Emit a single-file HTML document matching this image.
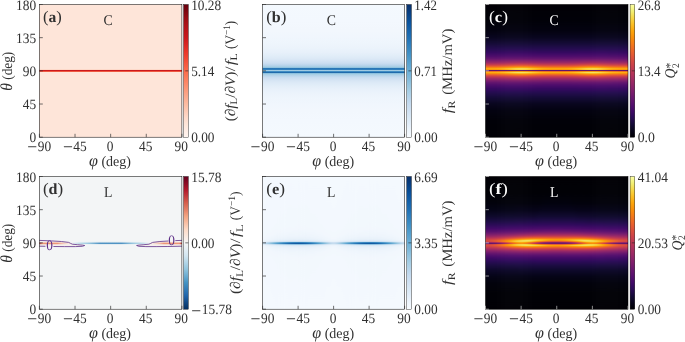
<!DOCTYPE html>
<html lang="en">
<head>
<meta charset="utf-8">
<title>Figure</title>
<style>html,body{margin:0;padding:0;background:#fff;overflow:hidden}svg{display:block}</style>
</head>
<body>
<svg width="685" height="342" viewBox="0 0 685 342" font-family='"Liberation Serif", "DejaVu Serif", serif' fill="#2e2e2e" text-rendering="geometricPrecision">
<defs>
<linearGradient id="ga" gradientUnits="userSpaceOnUse" x1="0" y1="70.8" x2="0" y2="137.2" spreadMethod="reflect"><stop offset="0.0000" stop-color="#c8171c"/><stop offset="0.0060" stop-color="#cc191e"/><stop offset="0.0120" stop-color="#fb6d4d"/><stop offset="0.0166" stop-color="#fcc2aa"/><stop offset="0.0211" stop-color="#fee5d9"/><stop offset="0.0256" stop-color="#fee5d9"/><stop offset="0.0316" stop-color="#fee5d9"/><stop offset="0.0392" stop-color="#fee5d9"/><stop offset="0.0482" stop-color="#fee5d9"/><stop offset="0.0557" stop-color="#fee5d9"/><stop offset="0.0723" stop-color="#fee5d9"/><stop offset="0.0889" stop-color="#fee5d9"/><stop offset="0.1054" stop-color="#fee5d9"/><stop offset="0.1205" stop-color="#fee5d9"/><stop offset="0.1506" stop-color="#fee5d9"/><stop offset="0.1807" stop-color="#fee5d9"/><stop offset="0.2199" stop-color="#fee5d9"/><stop offset="0.2711" stop-color="#fee5d9"/><stop offset="0.3313" stop-color="#fee5d9"/><stop offset="0.4066" stop-color="#fee5d9"/><stop offset="0.4970" stop-color="#fee5d9"/><stop offset="0.6024" stop-color="#fee5d9"/><stop offset="0.7530" stop-color="#fee5d9"/><stop offset="0.9992" stop-color="#fee5d9"/></linearGradient>
<linearGradient id="ca" x1="0" x2="0" y1="0" y2="1"><stop offset="0" stop-color="#67000d"/><stop offset="0.05" stop-color="#7e0610"/><stop offset="0.1" stop-color="#980c13"/><stop offset="0.15" stop-color="#ac1117"/><stop offset="0.2" stop-color="#bc141a"/><stop offset="0.25" stop-color="#ca181d"/><stop offset="0.3" stop-color="#d92523"/><stop offset="0.35" stop-color="#e83429"/><stop offset="0.4" stop-color="#f14432"/><stop offset="0.45" stop-color="#f6583e"/><stop offset="0.5" stop-color="#fb694a"/><stop offset="0.55" stop-color="#fb7a5a"/><stop offset="0.6" stop-color="#fc8a6a"/><stop offset="0.65" stop-color="#fc9b7c"/><stop offset="0.7" stop-color="#fcab8f"/><stop offset="0.75" stop-color="#fcbba1"/><stop offset="0.8" stop-color="#fdcab5"/><stop offset="0.85" stop-color="#fed9c9"/><stop offset="0.9" stop-color="#fee5d8"/><stop offset="0.95" stop-color="#ffede5"/><stop offset="1" stop-color="#fff5f0"/></linearGradient>
<linearGradient id="gb" gradientUnits="userSpaceOnUse" x1="0" y1="70.55" x2="0" y2="137.2" spreadMethod="reflect"><stop offset="0.0000" stop-color="#a3cce3"/><stop offset="0.0060" stop-color="#91c3de"/><stop offset="0.0120" stop-color="#56a0ce"/><stop offset="0.0165" stop-color="#2a7ab9"/><stop offset="0.0210" stop-color="#084f99"/><stop offset="0.0255" stop-color="#084a91"/><stop offset="0.0315" stop-color="#2e7ebc"/><stop offset="0.0390" stop-color="#77b5d9"/><stop offset="0.0480" stop-color="#9cc9e1"/><stop offset="0.0555" stop-color="#a6cee4"/><stop offset="0.0720" stop-color="#b4d3e9"/><stop offset="0.0885" stop-color="#bfd8ed"/><stop offset="0.1050" stop-color="#c9ddf0"/><stop offset="0.1200" stop-color="#cee0f2"/><stop offset="0.1500" stop-color="#d6e5f4"/><stop offset="0.1800" stop-color="#dce9f6"/><stop offset="0.2191" stop-color="#e1edf8"/><stop offset="0.2701" stop-color="#e7f0fa"/><stop offset="0.3301" stop-color="#ebf3fb"/><stop offset="0.4051" stop-color="#eef5fc"/><stop offset="0.4951" stop-color="#f0f6fd"/><stop offset="0.6002" stop-color="#f2f7fd"/><stop offset="0.7502" stop-color="#f3f8fe"/><stop offset="0.9955" stop-color="#f4f9fe"/></linearGradient>
<linearGradient id="cb" x1="0" x2="0" y1="0" y2="1"><stop offset="0" stop-color="#08306b"/><stop offset="0.05" stop-color="#083c7d"/><stop offset="0.1" stop-color="#084a91"/><stop offset="0.15" stop-color="#0d57a1"/><stop offset="0.2" stop-color="#1764ab"/><stop offset="0.25" stop-color="#2070b4"/><stop offset="0.3" stop-color="#2e7ebc"/><stop offset="0.35" stop-color="#3b8bc2"/><stop offset="0.4" stop-color="#4a98c9"/><stop offset="0.45" stop-color="#5ba3d0"/><stop offset="0.5" stop-color="#6aaed6"/><stop offset="0.55" stop-color="#7fb9da"/><stop offset="0.6" stop-color="#94c4df"/><stop offset="0.65" stop-color="#a6cee4"/><stop offset="0.7" stop-color="#b7d4ea"/><stop offset="0.75" stop-color="#c6dbef"/><stop offset="0.8" stop-color="#d0e1f2"/><stop offset="0.85" stop-color="#d9e8f5"/><stop offset="0.9" stop-color="#e3eef9"/><stop offset="0.95" stop-color="#eef5fc"/><stop offset="1" stop-color="#f7fbff"/></linearGradient>
<clipPath id="kc"><rect x="485.5" y="4.5" width="142.5" height="132.7"/></clipPath>
<filter id="bc" x="-10%" y="-5%" width="120%" height="110%" color-interpolation-filters="sRGB"><feGaussianBlur stdDeviation="1.6 0"/></filter>
<linearGradient id="gc0" gradientUnits="userSpaceOnUse" x1="0" y1="70.65" x2="0" y2="137.2" spreadMethod="reflect"><stop offset="0.0000" stop-color="#4a0c6b"/><stop offset="0.0060" stop-color="#84206b"/><stop offset="0.0120" stop-color="#eb6628"/><stop offset="0.0165" stop-color="#fa9407"/><stop offset="0.0210" stop-color="#fcae12"/><stop offset="0.0255" stop-color="#fcb014"/><stop offset="0.0316" stop-color="#fca60c"/><stop offset="0.0391" stop-color="#fb9706"/><stop offset="0.0481" stop-color="#f68013"/><stop offset="0.0556" stop-color="#f06f20"/><stop offset="0.0721" stop-color="#dd513a"/><stop offset="0.0887" stop-color="#c63d4d"/><stop offset="0.1052" stop-color="#b0315b"/><stop offset="0.1202" stop-color="#9b2964"/><stop offset="0.1503" stop-color="#7d1e6d"/><stop offset="0.1803" stop-color="#62146e"/><stop offset="0.2194" stop-color="#4c0c6b"/><stop offset="0.2705" stop-color="#360961"/><stop offset="0.3306" stop-color="#240c4f"/><stop offset="0.4057" stop-color="#150b37"/><stop offset="0.4959" stop-color="#09061f"/><stop offset="0.6011" stop-color="#030210"/><stop offset="0.7513" stop-color="#010108"/><stop offset="0.9970" stop-color="#010005"/></linearGradient>
<linearGradient id="gc1" gradientUnits="userSpaceOnUse" x1="0" y1="70.65" x2="0" y2="137.2" spreadMethod="reflect"><stop offset="0.0000" stop-color="#4a0c6b"/><stop offset="0.0060" stop-color="#84206b"/><stop offset="0.0120" stop-color="#eb6628"/><stop offset="0.0165" stop-color="#fa9407"/><stop offset="0.0210" stop-color="#fcae12"/><stop offset="0.0255" stop-color="#fcb014"/><stop offset="0.0316" stop-color="#fca60c"/><stop offset="0.0391" stop-color="#fb9706"/><stop offset="0.0481" stop-color="#f68013"/><stop offset="0.0556" stop-color="#f06f20"/><stop offset="0.0721" stop-color="#dd513a"/><stop offset="0.0887" stop-color="#c63d4d"/><stop offset="0.1052" stop-color="#b0315b"/><stop offset="0.1202" stop-color="#9b2964"/><stop offset="0.1503" stop-color="#7d1e6d"/><stop offset="0.1803" stop-color="#62146e"/><stop offset="0.2194" stop-color="#4c0c6b"/><stop offset="0.2705" stop-color="#360961"/><stop offset="0.3306" stop-color="#240c4f"/><stop offset="0.4057" stop-color="#150b37"/><stop offset="0.4959" stop-color="#09061f"/><stop offset="0.6011" stop-color="#030210"/><stop offset="0.7513" stop-color="#010108"/><stop offset="0.9970" stop-color="#010005"/></linearGradient>
<linearGradient id="gc2" gradientUnits="userSpaceOnUse" x1="0" y1="70.65" x2="0" y2="137.2" spreadMethod="reflect"><stop offset="0.0000" stop-color="#4a0c6b"/><stop offset="0.0060" stop-color="#84206b"/><stop offset="0.0120" stop-color="#ec6726"/><stop offset="0.0165" stop-color="#fb9606"/><stop offset="0.0210" stop-color="#fcb014"/><stop offset="0.0255" stop-color="#fcb014"/><stop offset="0.0316" stop-color="#fca60c"/><stop offset="0.0391" stop-color="#fb9706"/><stop offset="0.0481" stop-color="#f68013"/><stop offset="0.0556" stop-color="#f06f20"/><stop offset="0.0721" stop-color="#dd513a"/><stop offset="0.0887" stop-color="#c63d4d"/><stop offset="0.1052" stop-color="#b0315b"/><stop offset="0.1202" stop-color="#9b2964"/><stop offset="0.1503" stop-color="#7d1e6d"/><stop offset="0.1803" stop-color="#62146e"/><stop offset="0.2194" stop-color="#4c0c6b"/><stop offset="0.2705" stop-color="#360961"/><stop offset="0.3306" stop-color="#240c4f"/><stop offset="0.4057" stop-color="#150b37"/><stop offset="0.4959" stop-color="#09061f"/><stop offset="0.6011" stop-color="#030210"/><stop offset="0.7513" stop-color="#010108"/><stop offset="0.9970" stop-color="#010005"/></linearGradient>
<linearGradient id="gc3" gradientUnits="userSpaceOnUse" x1="0" y1="70.65" x2="0" y2="137.2" spreadMethod="reflect"><stop offset="0.0000" stop-color="#4a0c6b"/><stop offset="0.0060" stop-color="#84206b"/><stop offset="0.0120" stop-color="#ec6726"/><stop offset="0.0165" stop-color="#fb9706"/><stop offset="0.0210" stop-color="#fcb216"/><stop offset="0.0255" stop-color="#fcb216"/><stop offset="0.0316" stop-color="#fca80d"/><stop offset="0.0391" stop-color="#fb9906"/><stop offset="0.0481" stop-color="#f78212"/><stop offset="0.0556" stop-color="#f06f20"/><stop offset="0.0721" stop-color="#de5238"/><stop offset="0.0887" stop-color="#c73e4c"/><stop offset="0.1052" stop-color="#b0315b"/><stop offset="0.1202" stop-color="#9b2964"/><stop offset="0.1503" stop-color="#7d1e6d"/><stop offset="0.1803" stop-color="#62146e"/><stop offset="0.2194" stop-color="#4c0c6b"/><stop offset="0.2705" stop-color="#360961"/><stop offset="0.3306" stop-color="#240c4f"/><stop offset="0.4057" stop-color="#150b37"/><stop offset="0.4959" stop-color="#09061f"/><stop offset="0.6011" stop-color="#030210"/><stop offset="0.7513" stop-color="#010108"/><stop offset="0.9970" stop-color="#010005"/></linearGradient>
<linearGradient id="gc4" gradientUnits="userSpaceOnUse" x1="0" y1="70.65" x2="0" y2="137.2" spreadMethod="reflect"><stop offset="0.0000" stop-color="#4a0c6b"/><stop offset="0.0060" stop-color="#85216b"/><stop offset="0.0120" stop-color="#ee6a24"/><stop offset="0.0165" stop-color="#fb9906"/><stop offset="0.0210" stop-color="#fcb418"/><stop offset="0.0255" stop-color="#fbb61a"/><stop offset="0.0316" stop-color="#fcac11"/><stop offset="0.0391" stop-color="#fb9b06"/><stop offset="0.0481" stop-color="#f78410"/><stop offset="0.0556" stop-color="#f1711f"/><stop offset="0.0721" stop-color="#de5238"/><stop offset="0.0887" stop-color="#c73e4c"/><stop offset="0.1052" stop-color="#b1325a"/><stop offset="0.1202" stop-color="#9d2964"/><stop offset="0.1503" stop-color="#7d1e6d"/><stop offset="0.1803" stop-color="#62146e"/><stop offset="0.2194" stop-color="#4c0c6b"/><stop offset="0.2705" stop-color="#360961"/><stop offset="0.3306" stop-color="#240c4f"/><stop offset="0.4057" stop-color="#150b37"/><stop offset="0.4959" stop-color="#09061f"/><stop offset="0.6011" stop-color="#030210"/><stop offset="0.7513" stop-color="#010108"/><stop offset="0.9970" stop-color="#010005"/></linearGradient>
<linearGradient id="gc5" gradientUnits="userSpaceOnUse" x1="0" y1="70.65" x2="0" y2="137.2" spreadMethod="reflect"><stop offset="0.0000" stop-color="#4a0c6b"/><stop offset="0.0060" stop-color="#87216b"/><stop offset="0.0120" stop-color="#ef6e21"/><stop offset="0.0165" stop-color="#fc9f07"/><stop offset="0.0210" stop-color="#fbba1f"/><stop offset="0.0255" stop-color="#fbba1f"/><stop offset="0.0316" stop-color="#fcb014"/><stop offset="0.0391" stop-color="#fc9f07"/><stop offset="0.0481" stop-color="#f8870e"/><stop offset="0.0556" stop-color="#f2741c"/><stop offset="0.0721" stop-color="#e05536"/><stop offset="0.0887" stop-color="#c83f4b"/><stop offset="0.1052" stop-color="#b1325a"/><stop offset="0.1202" stop-color="#9d2964"/><stop offset="0.1503" stop-color="#7f1e6c"/><stop offset="0.1803" stop-color="#64156e"/><stop offset="0.2194" stop-color="#4c0c6b"/><stop offset="0.2705" stop-color="#360961"/><stop offset="0.3306" stop-color="#240c4f"/><stop offset="0.4057" stop-color="#150b37"/><stop offset="0.4959" stop-color="#09061f"/><stop offset="0.6011" stop-color="#030210"/><stop offset="0.7513" stop-color="#010108"/><stop offset="0.9970" stop-color="#010005"/></linearGradient>
<linearGradient id="gc6" gradientUnits="userSpaceOnUse" x1="0" y1="70.65" x2="0" y2="137.2" spreadMethod="reflect"><stop offset="0.0000" stop-color="#4a0c6b"/><stop offset="0.0060" stop-color="#88226a"/><stop offset="0.0120" stop-color="#f1731d"/><stop offset="0.0165" stop-color="#fca60c"/><stop offset="0.0210" stop-color="#fac42a"/><stop offset="0.0255" stop-color="#fac228"/><stop offset="0.0316" stop-color="#fbb81d"/><stop offset="0.0391" stop-color="#fca50a"/><stop offset="0.0481" stop-color="#f98c0a"/><stop offset="0.0556" stop-color="#f37819"/><stop offset="0.0721" stop-color="#e15635"/><stop offset="0.0887" stop-color="#ca404a"/><stop offset="0.1052" stop-color="#b3325a"/><stop offset="0.1202" stop-color="#9f2a63"/><stop offset="0.1503" stop-color="#7f1e6c"/><stop offset="0.1803" stop-color="#64156e"/><stop offset="0.2194" stop-color="#4c0c6b"/><stop offset="0.2705" stop-color="#360961"/><stop offset="0.3306" stop-color="#240c4f"/><stop offset="0.4057" stop-color="#150b37"/><stop offset="0.4959" stop-color="#09061f"/><stop offset="0.6011" stop-color="#030210"/><stop offset="0.7513" stop-color="#010108"/><stop offset="0.9970" stop-color="#010005"/></linearGradient>
<linearGradient id="gc7" gradientUnits="userSpaceOnUse" x1="0" y1="70.65" x2="0" y2="137.2" spreadMethod="reflect"><stop offset="0.0000" stop-color="#4a0c6b"/><stop offset="0.0060" stop-color="#8c2369"/><stop offset="0.0120" stop-color="#f37819"/><stop offset="0.0165" stop-color="#fcb014"/><stop offset="0.0210" stop-color="#f8cd37"/><stop offset="0.0255" stop-color="#f9cb35"/><stop offset="0.0316" stop-color="#fac026"/><stop offset="0.0391" stop-color="#fcac11"/><stop offset="0.0481" stop-color="#fa9207"/><stop offset="0.0556" stop-color="#f57d15"/><stop offset="0.0721" stop-color="#e45a31"/><stop offset="0.0887" stop-color="#cc4248"/><stop offset="0.1052" stop-color="#b63458"/><stop offset="0.1202" stop-color="#a02a63"/><stop offset="0.1503" stop-color="#801f6c"/><stop offset="0.1803" stop-color="#64156e"/><stop offset="0.2194" stop-color="#4d0d6c"/><stop offset="0.2705" stop-color="#380962"/><stop offset="0.3306" stop-color="#240c4f"/><stop offset="0.4057" stop-color="#150b37"/><stop offset="0.4959" stop-color="#09061f"/><stop offset="0.6011" stop-color="#030210"/><stop offset="0.7513" stop-color="#010108"/><stop offset="0.9970" stop-color="#010005"/></linearGradient>
<linearGradient id="gc8" gradientUnits="userSpaceOnUse" x1="0" y1="70.65" x2="0" y2="137.2" spreadMethod="reflect"><stop offset="0.0000" stop-color="#4a0c6b"/><stop offset="0.0060" stop-color="#8f2469"/><stop offset="0.0120" stop-color="#f67e14"/><stop offset="0.0165" stop-color="#fbba1f"/><stop offset="0.0210" stop-color="#f6d746"/><stop offset="0.0255" stop-color="#f6d543"/><stop offset="0.0316" stop-color="#f9c72f"/><stop offset="0.0391" stop-color="#fcb418"/><stop offset="0.0481" stop-color="#fb9706"/><stop offset="0.0556" stop-color="#f78212"/><stop offset="0.0721" stop-color="#e65d2f"/><stop offset="0.0887" stop-color="#cf4446"/><stop offset="0.1052" stop-color="#b73557"/><stop offset="0.1202" stop-color="#a22b62"/><stop offset="0.1503" stop-color="#801f6c"/><stop offset="0.1803" stop-color="#65156e"/><stop offset="0.2194" stop-color="#4d0d6c"/><stop offset="0.2705" stop-color="#380962"/><stop offset="0.3306" stop-color="#240c4f"/><stop offset="0.4057" stop-color="#150b37"/><stop offset="0.4959" stop-color="#09061f"/><stop offset="0.6011" stop-color="#030210"/><stop offset="0.7513" stop-color="#010108"/><stop offset="0.9970" stop-color="#010005"/></linearGradient>
<linearGradient id="gc9" gradientUnits="userSpaceOnUse" x1="0" y1="70.65" x2="0" y2="137.2" spreadMethod="reflect"><stop offset="0.0000" stop-color="#4a0c6b"/><stop offset="0.0060" stop-color="#922568"/><stop offset="0.0120" stop-color="#f78410"/><stop offset="0.0165" stop-color="#fac42a"/><stop offset="0.0210" stop-color="#f4e156"/><stop offset="0.0255" stop-color="#f4df53"/><stop offset="0.0316" stop-color="#f7d13d"/><stop offset="0.0391" stop-color="#fbba1f"/><stop offset="0.0481" stop-color="#fb9d07"/><stop offset="0.0556" stop-color="#f8870e"/><stop offset="0.0721" stop-color="#e8602d"/><stop offset="0.0887" stop-color="#d04545"/><stop offset="0.1052" stop-color="#b93556"/><stop offset="0.1202" stop-color="#a32c61"/><stop offset="0.1503" stop-color="#82206c"/><stop offset="0.1803" stop-color="#65156e"/><stop offset="0.2194" stop-color="#4d0d6c"/><stop offset="0.2705" stop-color="#380962"/><stop offset="0.3306" stop-color="#240c4f"/><stop offset="0.4057" stop-color="#150b37"/><stop offset="0.4959" stop-color="#09061f"/><stop offset="0.6011" stop-color="#030210"/><stop offset="0.7513" stop-color="#010108"/><stop offset="0.9970" stop-color="#010005"/></linearGradient>
<linearGradient id="gc10" gradientUnits="userSpaceOnUse" x1="0" y1="70.65" x2="0" y2="137.2" spreadMethod="reflect"><stop offset="0.0000" stop-color="#4a0c6b"/><stop offset="0.0060" stop-color="#932667"/><stop offset="0.0120" stop-color="#f8890c"/><stop offset="0.0165" stop-color="#f9cb35"/><stop offset="0.0210" stop-color="#f2e865"/><stop offset="0.0255" stop-color="#f3e55d"/><stop offset="0.0316" stop-color="#f6d746"/><stop offset="0.0391" stop-color="#fac026"/><stop offset="0.0481" stop-color="#fca309"/><stop offset="0.0556" stop-color="#f98b0b"/><stop offset="0.0721" stop-color="#ea632a"/><stop offset="0.0887" stop-color="#d34743"/><stop offset="0.1052" stop-color="#ba3655"/><stop offset="0.1202" stop-color="#a52c60"/><stop offset="0.1503" stop-color="#82206c"/><stop offset="0.1803" stop-color="#65156e"/><stop offset="0.2194" stop-color="#4d0d6c"/><stop offset="0.2705" stop-color="#380962"/><stop offset="0.3306" stop-color="#240c4f"/><stop offset="0.4057" stop-color="#150b37"/><stop offset="0.4959" stop-color="#09061f"/><stop offset="0.6011" stop-color="#030210"/><stop offset="0.7513" stop-color="#010108"/><stop offset="0.9970" stop-color="#010005"/></linearGradient>
<linearGradient id="gc11" gradientUnits="userSpaceOnUse" x1="0" y1="70.65" x2="0" y2="137.2" spreadMethod="reflect"><stop offset="0.0000" stop-color="#4a0c6b"/><stop offset="0.0060" stop-color="#952667"/><stop offset="0.0120" stop-color="#f98b0b"/><stop offset="0.0165" stop-color="#f8cf3a"/><stop offset="0.0210" stop-color="#f1ec6d"/><stop offset="0.0255" stop-color="#f2e865"/><stop offset="0.0316" stop-color="#f5db4c"/><stop offset="0.0391" stop-color="#fac42a"/><stop offset="0.0481" stop-color="#fca50a"/><stop offset="0.0556" stop-color="#f98c0a"/><stop offset="0.0721" stop-color="#eb6429"/><stop offset="0.0887" stop-color="#d34743"/><stop offset="0.1052" stop-color="#bc3754"/><stop offset="0.1202" stop-color="#a52c60"/><stop offset="0.1503" stop-color="#82206c"/><stop offset="0.1803" stop-color="#65156e"/><stop offset="0.2194" stop-color="#4d0d6c"/><stop offset="0.2705" stop-color="#380962"/><stop offset="0.3306" stop-color="#240c4f"/><stop offset="0.4057" stop-color="#150b37"/><stop offset="0.4959" stop-color="#09061f"/><stop offset="0.6011" stop-color="#030210"/><stop offset="0.7513" stop-color="#010108"/><stop offset="0.9970" stop-color="#010005"/></linearGradient>
<linearGradient id="gc12" gradientUnits="userSpaceOnUse" x1="0" y1="70.65" x2="0" y2="137.2" spreadMethod="reflect"><stop offset="0.0000" stop-color="#4a0c6b"/><stop offset="0.0060" stop-color="#952667"/><stop offset="0.0120" stop-color="#f98b0b"/><stop offset="0.0165" stop-color="#f8cf3a"/><stop offset="0.0210" stop-color="#f1ec6d"/><stop offset="0.0255" stop-color="#f2e865"/><stop offset="0.0316" stop-color="#f5db4c"/><stop offset="0.0391" stop-color="#fac42a"/><stop offset="0.0481" stop-color="#fca50a"/><stop offset="0.0556" stop-color="#f98c0a"/><stop offset="0.0721" stop-color="#eb6429"/><stop offset="0.0887" stop-color="#d34743"/><stop offset="0.1052" stop-color="#bc3754"/><stop offset="0.1202" stop-color="#a52c60"/><stop offset="0.1503" stop-color="#82206c"/><stop offset="0.1803" stop-color="#65156e"/><stop offset="0.2194" stop-color="#4d0d6c"/><stop offset="0.2705" stop-color="#380962"/><stop offset="0.3306" stop-color="#240c4f"/><stop offset="0.4057" stop-color="#150b37"/><stop offset="0.4959" stop-color="#09061f"/><stop offset="0.6011" stop-color="#030210"/><stop offset="0.7513" stop-color="#010108"/><stop offset="0.9970" stop-color="#010005"/></linearGradient>
<linearGradient id="gc13" gradientUnits="userSpaceOnUse" x1="0" y1="70.65" x2="0" y2="137.2" spreadMethod="reflect"><stop offset="0.0000" stop-color="#4a0c6b"/><stop offset="0.0060" stop-color="#932667"/><stop offset="0.0120" stop-color="#f8890c"/><stop offset="0.0165" stop-color="#f9cb35"/><stop offset="0.0210" stop-color="#f2e865"/><stop offset="0.0255" stop-color="#f3e55d"/><stop offset="0.0316" stop-color="#f6d746"/><stop offset="0.0391" stop-color="#fac026"/><stop offset="0.0481" stop-color="#fca309"/><stop offset="0.0556" stop-color="#f98b0b"/><stop offset="0.0721" stop-color="#ea632a"/><stop offset="0.0887" stop-color="#d34743"/><stop offset="0.1052" stop-color="#ba3655"/><stop offset="0.1202" stop-color="#a52c60"/><stop offset="0.1503" stop-color="#82206c"/><stop offset="0.1803" stop-color="#65156e"/><stop offset="0.2194" stop-color="#4d0d6c"/><stop offset="0.2705" stop-color="#380962"/><stop offset="0.3306" stop-color="#240c4f"/><stop offset="0.4057" stop-color="#150b37"/><stop offset="0.4959" stop-color="#09061f"/><stop offset="0.6011" stop-color="#030210"/><stop offset="0.7513" stop-color="#010108"/><stop offset="0.9970" stop-color="#010005"/></linearGradient>
<linearGradient id="gc14" gradientUnits="userSpaceOnUse" x1="0" y1="70.65" x2="0" y2="137.2" spreadMethod="reflect"><stop offset="0.0000" stop-color="#4a0c6b"/><stop offset="0.0060" stop-color="#922568"/><stop offset="0.0120" stop-color="#f78410"/><stop offset="0.0165" stop-color="#fac42a"/><stop offset="0.0210" stop-color="#f4e156"/><stop offset="0.0255" stop-color="#f4df53"/><stop offset="0.0316" stop-color="#f7d13d"/><stop offset="0.0391" stop-color="#fbba1f"/><stop offset="0.0481" stop-color="#fb9d07"/><stop offset="0.0556" stop-color="#f8870e"/><stop offset="0.0721" stop-color="#e8602d"/><stop offset="0.0887" stop-color="#d04545"/><stop offset="0.1052" stop-color="#b93556"/><stop offset="0.1202" stop-color="#a32c61"/><stop offset="0.1503" stop-color="#82206c"/><stop offset="0.1803" stop-color="#65156e"/><stop offset="0.2194" stop-color="#4d0d6c"/><stop offset="0.2705" stop-color="#380962"/><stop offset="0.3306" stop-color="#240c4f"/><stop offset="0.4057" stop-color="#150b37"/><stop offset="0.4959" stop-color="#09061f"/><stop offset="0.6011" stop-color="#030210"/><stop offset="0.7513" stop-color="#010108"/><stop offset="0.9970" stop-color="#010005"/></linearGradient>
<linearGradient id="gc15" gradientUnits="userSpaceOnUse" x1="0" y1="70.65" x2="0" y2="137.2" spreadMethod="reflect"><stop offset="0.0000" stop-color="#4a0c6b"/><stop offset="0.0060" stop-color="#8f2469"/><stop offset="0.0120" stop-color="#f67e14"/><stop offset="0.0165" stop-color="#fbba1f"/><stop offset="0.0210" stop-color="#f6d746"/><stop offset="0.0255" stop-color="#f6d543"/><stop offset="0.0316" stop-color="#f9c72f"/><stop offset="0.0391" stop-color="#fcb418"/><stop offset="0.0481" stop-color="#fb9706"/><stop offset="0.0556" stop-color="#f78212"/><stop offset="0.0721" stop-color="#e65d2f"/><stop offset="0.0887" stop-color="#cf4446"/><stop offset="0.1052" stop-color="#b73557"/><stop offset="0.1202" stop-color="#a22b62"/><stop offset="0.1503" stop-color="#801f6c"/><stop offset="0.1803" stop-color="#65156e"/><stop offset="0.2194" stop-color="#4d0d6c"/><stop offset="0.2705" stop-color="#380962"/><stop offset="0.3306" stop-color="#240c4f"/><stop offset="0.4057" stop-color="#150b37"/><stop offset="0.4959" stop-color="#09061f"/><stop offset="0.6011" stop-color="#030210"/><stop offset="0.7513" stop-color="#010108"/><stop offset="0.9970" stop-color="#010005"/></linearGradient>
<linearGradient id="gc16" gradientUnits="userSpaceOnUse" x1="0" y1="70.65" x2="0" y2="137.2" spreadMethod="reflect"><stop offset="0.0000" stop-color="#4a0c6b"/><stop offset="0.0060" stop-color="#8c2369"/><stop offset="0.0120" stop-color="#f37819"/><stop offset="0.0165" stop-color="#fcb014"/><stop offset="0.0210" stop-color="#f8cd37"/><stop offset="0.0255" stop-color="#f9cb35"/><stop offset="0.0316" stop-color="#fac026"/><stop offset="0.0391" stop-color="#fcac11"/><stop offset="0.0481" stop-color="#fa9207"/><stop offset="0.0556" stop-color="#f57d15"/><stop offset="0.0721" stop-color="#e45a31"/><stop offset="0.0887" stop-color="#cc4248"/><stop offset="0.1052" stop-color="#b63458"/><stop offset="0.1202" stop-color="#a02a63"/><stop offset="0.1503" stop-color="#801f6c"/><stop offset="0.1803" stop-color="#64156e"/><stop offset="0.2194" stop-color="#4d0d6c"/><stop offset="0.2705" stop-color="#380962"/><stop offset="0.3306" stop-color="#240c4f"/><stop offset="0.4057" stop-color="#150b37"/><stop offset="0.4959" stop-color="#09061f"/><stop offset="0.6011" stop-color="#030210"/><stop offset="0.7513" stop-color="#010108"/><stop offset="0.9970" stop-color="#010005"/></linearGradient>
<linearGradient id="gc17" gradientUnits="userSpaceOnUse" x1="0" y1="70.65" x2="0" y2="137.2" spreadMethod="reflect"><stop offset="0.0000" stop-color="#4a0c6b"/><stop offset="0.0060" stop-color="#88226a"/><stop offset="0.0120" stop-color="#f1731d"/><stop offset="0.0165" stop-color="#fca60c"/><stop offset="0.0210" stop-color="#fac42a"/><stop offset="0.0255" stop-color="#fac228"/><stop offset="0.0316" stop-color="#fbb81d"/><stop offset="0.0391" stop-color="#fca50a"/><stop offset="0.0481" stop-color="#f98c0a"/><stop offset="0.0556" stop-color="#f37819"/><stop offset="0.0721" stop-color="#e15635"/><stop offset="0.0887" stop-color="#ca404a"/><stop offset="0.1052" stop-color="#b3325a"/><stop offset="0.1202" stop-color="#9f2a63"/><stop offset="0.1503" stop-color="#7f1e6c"/><stop offset="0.1803" stop-color="#64156e"/><stop offset="0.2194" stop-color="#4c0c6b"/><stop offset="0.2705" stop-color="#360961"/><stop offset="0.3306" stop-color="#240c4f"/><stop offset="0.4057" stop-color="#150b37"/><stop offset="0.4959" stop-color="#09061f"/><stop offset="0.6011" stop-color="#030210"/><stop offset="0.7513" stop-color="#010108"/><stop offset="0.9970" stop-color="#010005"/></linearGradient>
<linearGradient id="gc18" gradientUnits="userSpaceOnUse" x1="0" y1="70.65" x2="0" y2="137.2" spreadMethod="reflect"><stop offset="0.0000" stop-color="#4a0c6b"/><stop offset="0.0060" stop-color="#87216b"/><stop offset="0.0120" stop-color="#ef6e21"/><stop offset="0.0165" stop-color="#fc9f07"/><stop offset="0.0210" stop-color="#fbba1f"/><stop offset="0.0255" stop-color="#fbba1f"/><stop offset="0.0316" stop-color="#fcb014"/><stop offset="0.0391" stop-color="#fc9f07"/><stop offset="0.0481" stop-color="#f8870e"/><stop offset="0.0556" stop-color="#f2741c"/><stop offset="0.0721" stop-color="#e05536"/><stop offset="0.0887" stop-color="#c83f4b"/><stop offset="0.1052" stop-color="#b1325a"/><stop offset="0.1202" stop-color="#9d2964"/><stop offset="0.1503" stop-color="#7f1e6c"/><stop offset="0.1803" stop-color="#64156e"/><stop offset="0.2194" stop-color="#4c0c6b"/><stop offset="0.2705" stop-color="#360961"/><stop offset="0.3306" stop-color="#240c4f"/><stop offset="0.4057" stop-color="#150b37"/><stop offset="0.4959" stop-color="#09061f"/><stop offset="0.6011" stop-color="#030210"/><stop offset="0.7513" stop-color="#010108"/><stop offset="0.9970" stop-color="#010005"/></linearGradient>
<linearGradient id="gc19" gradientUnits="userSpaceOnUse" x1="0" y1="70.65" x2="0" y2="137.2" spreadMethod="reflect"><stop offset="0.0000" stop-color="#4a0c6b"/><stop offset="0.0060" stop-color="#85216b"/><stop offset="0.0120" stop-color="#ee6a24"/><stop offset="0.0165" stop-color="#fb9906"/><stop offset="0.0210" stop-color="#fcb418"/><stop offset="0.0255" stop-color="#fbb61a"/><stop offset="0.0316" stop-color="#fcac11"/><stop offset="0.0391" stop-color="#fb9b06"/><stop offset="0.0481" stop-color="#f78410"/><stop offset="0.0556" stop-color="#f1711f"/><stop offset="0.0721" stop-color="#de5238"/><stop offset="0.0887" stop-color="#c73e4c"/><stop offset="0.1052" stop-color="#b1325a"/><stop offset="0.1202" stop-color="#9d2964"/><stop offset="0.1503" stop-color="#7d1e6d"/><stop offset="0.1803" stop-color="#62146e"/><stop offset="0.2194" stop-color="#4c0c6b"/><stop offset="0.2705" stop-color="#360961"/><stop offset="0.3306" stop-color="#240c4f"/><stop offset="0.4057" stop-color="#150b37"/><stop offset="0.4959" stop-color="#09061f"/><stop offset="0.6011" stop-color="#030210"/><stop offset="0.7513" stop-color="#010108"/><stop offset="0.9970" stop-color="#010005"/></linearGradient>
<linearGradient id="gc20" gradientUnits="userSpaceOnUse" x1="0" y1="70.65" x2="0" y2="137.2" spreadMethod="reflect"><stop offset="0.0000" stop-color="#4a0c6b"/><stop offset="0.0060" stop-color="#84206b"/><stop offset="0.0120" stop-color="#ec6726"/><stop offset="0.0165" stop-color="#fb9706"/><stop offset="0.0210" stop-color="#fcb216"/><stop offset="0.0255" stop-color="#fcb216"/><stop offset="0.0316" stop-color="#fca80d"/><stop offset="0.0391" stop-color="#fb9906"/><stop offset="0.0481" stop-color="#f78212"/><stop offset="0.0556" stop-color="#f06f20"/><stop offset="0.0721" stop-color="#de5238"/><stop offset="0.0887" stop-color="#c73e4c"/><stop offset="0.1052" stop-color="#b0315b"/><stop offset="0.1202" stop-color="#9b2964"/><stop offset="0.1503" stop-color="#7d1e6d"/><stop offset="0.1803" stop-color="#62146e"/><stop offset="0.2194" stop-color="#4c0c6b"/><stop offset="0.2705" stop-color="#360961"/><stop offset="0.3306" stop-color="#240c4f"/><stop offset="0.4057" stop-color="#150b37"/><stop offset="0.4959" stop-color="#09061f"/><stop offset="0.6011" stop-color="#030210"/><stop offset="0.7513" stop-color="#010108"/><stop offset="0.9970" stop-color="#010005"/></linearGradient>
<linearGradient id="gc21" gradientUnits="userSpaceOnUse" x1="0" y1="70.65" x2="0" y2="137.2" spreadMethod="reflect"><stop offset="0.0000" stop-color="#4a0c6b"/><stop offset="0.0060" stop-color="#84206b"/><stop offset="0.0120" stop-color="#ec6726"/><stop offset="0.0165" stop-color="#fb9606"/><stop offset="0.0210" stop-color="#fcb014"/><stop offset="0.0255" stop-color="#fcb014"/><stop offset="0.0316" stop-color="#fca60c"/><stop offset="0.0391" stop-color="#fb9706"/><stop offset="0.0481" stop-color="#f68013"/><stop offset="0.0556" stop-color="#f06f20"/><stop offset="0.0721" stop-color="#dd513a"/><stop offset="0.0887" stop-color="#c63d4d"/><stop offset="0.1052" stop-color="#b0315b"/><stop offset="0.1202" stop-color="#9b2964"/><stop offset="0.1503" stop-color="#7d1e6d"/><stop offset="0.1803" stop-color="#62146e"/><stop offset="0.2194" stop-color="#4c0c6b"/><stop offset="0.2705" stop-color="#360961"/><stop offset="0.3306" stop-color="#240c4f"/><stop offset="0.4057" stop-color="#150b37"/><stop offset="0.4959" stop-color="#09061f"/><stop offset="0.6011" stop-color="#030210"/><stop offset="0.7513" stop-color="#010108"/><stop offset="0.9970" stop-color="#010005"/></linearGradient>
<linearGradient id="gc22" gradientUnits="userSpaceOnUse" x1="0" y1="70.65" x2="0" y2="137.2" spreadMethod="reflect"><stop offset="0.0000" stop-color="#4a0c6b"/><stop offset="0.0060" stop-color="#84206b"/><stop offset="0.0120" stop-color="#eb6628"/><stop offset="0.0165" stop-color="#fa9407"/><stop offset="0.0210" stop-color="#fcae12"/><stop offset="0.0255" stop-color="#fcb014"/><stop offset="0.0316" stop-color="#fca60c"/><stop offset="0.0391" stop-color="#fb9706"/><stop offset="0.0481" stop-color="#f68013"/><stop offset="0.0556" stop-color="#f06f20"/><stop offset="0.0721" stop-color="#dd513a"/><stop offset="0.0887" stop-color="#c63d4d"/><stop offset="0.1052" stop-color="#b0315b"/><stop offset="0.1202" stop-color="#9b2964"/><stop offset="0.1503" stop-color="#7d1e6d"/><stop offset="0.1803" stop-color="#62146e"/><stop offset="0.2194" stop-color="#4c0c6b"/><stop offset="0.2705" stop-color="#360961"/><stop offset="0.3306" stop-color="#240c4f"/><stop offset="0.4057" stop-color="#150b37"/><stop offset="0.4959" stop-color="#09061f"/><stop offset="0.6011" stop-color="#030210"/><stop offset="0.7513" stop-color="#010108"/><stop offset="0.9970" stop-color="#010005"/></linearGradient>
<linearGradient id="gc23" gradientUnits="userSpaceOnUse" x1="0" y1="70.65" x2="0" y2="137.2" spreadMethod="reflect"><stop offset="0.0000" stop-color="#4a0c6b"/><stop offset="0.0060" stop-color="#84206b"/><stop offset="0.0120" stop-color="#eb6628"/><stop offset="0.0165" stop-color="#fa9407"/><stop offset="0.0210" stop-color="#fcae12"/><stop offset="0.0255" stop-color="#fcb014"/><stop offset="0.0316" stop-color="#fca60c"/><stop offset="0.0391" stop-color="#fb9706"/><stop offset="0.0481" stop-color="#f68013"/><stop offset="0.0556" stop-color="#f06f20"/><stop offset="0.0721" stop-color="#dd513a"/><stop offset="0.0887" stop-color="#c63d4d"/><stop offset="0.1052" stop-color="#b0315b"/><stop offset="0.1202" stop-color="#9b2964"/><stop offset="0.1503" stop-color="#7d1e6d"/><stop offset="0.1803" stop-color="#62146e"/><stop offset="0.2194" stop-color="#4c0c6b"/><stop offset="0.2705" stop-color="#360961"/><stop offset="0.3306" stop-color="#240c4f"/><stop offset="0.4057" stop-color="#150b37"/><stop offset="0.4959" stop-color="#09061f"/><stop offset="0.6011" stop-color="#030210"/><stop offset="0.7513" stop-color="#010108"/><stop offset="0.9970" stop-color="#010005"/></linearGradient>
<linearGradient id="cc" x1="0" x2="0" y1="0" y2="1"><stop offset="0" stop-color="#fcffa4"/><stop offset="0.05" stop-color="#f1ef75"/><stop offset="0.1" stop-color="#f6d746"/><stop offset="0.15" stop-color="#fbbe23"/><stop offset="0.2" stop-color="#fca50a"/><stop offset="0.25" stop-color="#f98e09"/><stop offset="0.3" stop-color="#f37819"/><stop offset="0.35" stop-color="#ea632a"/><stop offset="0.4" stop-color="#dd513a"/><stop offset="0.45" stop-color="#cc4248"/><stop offset="0.5" stop-color="#bc3754"/><stop offset="0.55" stop-color="#a82e5f"/><stop offset="0.6" stop-color="#932667"/><stop offset="0.65" stop-color="#7f1e6c"/><stop offset="0.7" stop-color="#6a176e"/><stop offset="0.75" stop-color="#57106e"/><stop offset="0.8" stop-color="#420a68"/><stop offset="0.85" stop-color="#2b0b57"/><stop offset="0.9" stop-color="#160b39"/><stop offset="0.95" stop-color="#07051b"/><stop offset="1" stop-color="#000004"/></linearGradient>
<linearGradient id="dl" x1="0" x2="1" y1="0" y2="0"><stop offset="0" stop-color="#90c4dd" stop-opacity="0"/><stop offset=".08" stop-color="#90c4dd" stop-opacity=".5"/><stop offset=".2" stop-color="#90c4dd" stop-opacity=".95"/><stop offset=".36" stop-color="#3885bc"/><stop offset=".64" stop-color="#3885bc"/><stop offset=".8" stop-color="#90c4dd" stop-opacity=".95"/><stop offset=".92" stop-color="#90c4dd" stop-opacity=".5"/><stop offset="1" stop-color="#90c4dd" stop-opacity="0"/></linearGradient>
<linearGradient id="dwl" x1="0" x2="1" y1="0" y2="0"><stop offset="0" stop-color="#bf3338"/><stop offset=".08" stop-color="#ee9677"/><stop offset=".55" stop-color="#ee9677"/><stop offset="1" stop-color="#fddbc7" stop-opacity="0"/></linearGradient>
<linearGradient id="dwr" x1="1" x2="0" y1="0" y2="0"><stop offset="0" stop-color="#bf3338"/><stop offset=".08" stop-color="#ee9677"/><stop offset=".55" stop-color="#ee9677"/><stop offset="1" stop-color="#fddbc7" stop-opacity="0"/></linearGradient>
<linearGradient id="cd" x1="0" x2="0" y1="0" y2="1"><stop offset="0" stop-color="#67001f"/><stop offset="0.05" stop-color="#8a0b25"/><stop offset="0.1" stop-color="#b1182b"/><stop offset="0.15" stop-color="#c43b3c"/><stop offset="0.2" stop-color="#d6604d"/><stop offset="0.25" stop-color="#e48066"/><stop offset="0.3" stop-color="#f3a481"/><stop offset="0.35" stop-color="#f8bfa4"/><stop offset="0.4" stop-color="#fddbc7"/><stop offset="0.45" stop-color="#fae9df"/><stop offset="0.5" stop-color="#f7f6f6"/><stop offset="0.55" stop-color="#e4eef4"/><stop offset="0.6" stop-color="#d1e5f0"/><stop offset="0.65" stop-color="#b1d5e7"/><stop offset="0.7" stop-color="#90c4dd"/><stop offset="0.75" stop-color="#6bacd1"/><stop offset="0.8" stop-color="#4393c3"/><stop offset="0.85" stop-color="#327cb7"/><stop offset="0.9" stop-color="#2065ab"/><stop offset="0.95" stop-color="#124984"/><stop offset="1" stop-color="#053061"/></linearGradient>
<clipPath id="ke"><rect x="262.6" y="176.5" width="142" height="132.7"/></clipPath>
<filter id="be" x="-10%" y="-5%" width="120%" height="110%" color-interpolation-filters="sRGB"><feGaussianBlur stdDeviation="1.6 0"/></filter>
<linearGradient id="ge0" gradientUnits="userSpaceOnUse" x1="0" y1="243.25" x2="0" y2="309.2" spreadMethod="reflect"><stop offset="0.0000" stop-color="#c4daee"/><stop offset="0.0061" stop-color="#c7dcef"/><stop offset="0.0121" stop-color="#d0e2f2"/><stop offset="0.0167" stop-color="#dae8f6"/><stop offset="0.0212" stop-color="#e3eef9"/><stop offset="0.0258" stop-color="#e9f2fa"/><stop offset="0.0318" stop-color="#ecf4fb"/><stop offset="0.0394" stop-color="#eef5fc"/><stop offset="0.0485" stop-color="#f0f6fd"/><stop offset="0.0561" stop-color="#f0f6fd"/><stop offset="0.0728" stop-color="#f2f7fd"/><stop offset="0.0895" stop-color="#f2f7fd"/><stop offset="0.1061" stop-color="#f2f8fd"/><stop offset="0.1213" stop-color="#f2f8fd"/><stop offset="0.1516" stop-color="#f2f8fd"/><stop offset="0.1820" stop-color="#f3f8fe"/><stop offset="0.2214" stop-color="#f3f8fe"/><stop offset="0.2729" stop-color="#f3f8fe"/><stop offset="0.3336" stop-color="#f3f8fe"/><stop offset="0.4094" stop-color="#f3f8fe"/><stop offset="0.5004" stop-color="#f3f8fe"/><stop offset="0.6065" stop-color="#f4f9fe"/><stop offset="0.7582" stop-color="#f4f9fe"/><stop offset="1.0061" stop-color="#f4f9fe"/></linearGradient>
<linearGradient id="ge1" gradientUnits="userSpaceOnUse" x1="0" y1="243.25" x2="0" y2="309.2" spreadMethod="reflect"><stop offset="0.0000" stop-color="#aed1e7"/><stop offset="0.0061" stop-color="#b3d3e8"/><stop offset="0.0121" stop-color="#c7dbef"/><stop offset="0.0167" stop-color="#d3e4f3"/><stop offset="0.0212" stop-color="#deebf7"/><stop offset="0.0258" stop-color="#e5eff9"/><stop offset="0.0318" stop-color="#eaf2fb"/><stop offset="0.0394" stop-color="#edf4fc"/><stop offset="0.0485" stop-color="#eef5fc"/><stop offset="0.0561" stop-color="#eff6fc"/><stop offset="0.0728" stop-color="#f0f6fd"/><stop offset="0.0895" stop-color="#f1f7fd"/><stop offset="0.1061" stop-color="#f2f7fd"/><stop offset="0.1213" stop-color="#f2f7fd"/><stop offset="0.1516" stop-color="#f2f8fd"/><stop offset="0.1820" stop-color="#f2f8fd"/><stop offset="0.2214" stop-color="#f3f8fe"/><stop offset="0.2729" stop-color="#f3f8fe"/><stop offset="0.3336" stop-color="#f3f8fe"/><stop offset="0.4094" stop-color="#f3f8fe"/><stop offset="0.5004" stop-color="#f3f8fe"/><stop offset="0.6065" stop-color="#f3f8fe"/><stop offset="0.7582" stop-color="#f4f9fe"/><stop offset="1.0061" stop-color="#f4f9fe"/></linearGradient>
<linearGradient id="ge2" gradientUnits="userSpaceOnUse" x1="0" y1="243.25" x2="0" y2="309.2" spreadMethod="reflect"><stop offset="0.0000" stop-color="#92c4de"/><stop offset="0.0061" stop-color="#9ac8e0"/><stop offset="0.0121" stop-color="#b4d3e9"/><stop offset="0.0167" stop-color="#cbdef1"/><stop offset="0.0212" stop-color="#d9e7f5"/><stop offset="0.0258" stop-color="#e1edf8"/><stop offset="0.0318" stop-color="#e7f0fa"/><stop offset="0.0394" stop-color="#eaf3fb"/><stop offset="0.0485" stop-color="#ecf4fb"/><stop offset="0.0561" stop-color="#eef5fc"/><stop offset="0.0728" stop-color="#eff6fc"/><stop offset="0.0895" stop-color="#f0f6fd"/><stop offset="0.1061" stop-color="#f1f7fd"/><stop offset="0.1213" stop-color="#f2f7fd"/><stop offset="0.1516" stop-color="#f2f7fd"/><stop offset="0.1820" stop-color="#f2f8fd"/><stop offset="0.2214" stop-color="#f3f8fe"/><stop offset="0.2729" stop-color="#f3f8fe"/><stop offset="0.3336" stop-color="#f3f8fe"/><stop offset="0.4094" stop-color="#f3f8fe"/><stop offset="0.5004" stop-color="#f3f8fe"/><stop offset="0.6065" stop-color="#f3f8fe"/><stop offset="0.7582" stop-color="#f4f9fe"/><stop offset="1.0061" stop-color="#f4f9fe"/></linearGradient>
<linearGradient id="ge3" gradientUnits="userSpaceOnUse" x1="0" y1="243.25" x2="0" y2="309.2" spreadMethod="reflect"><stop offset="0.0000" stop-color="#72b2d8"/><stop offset="0.0061" stop-color="#7cb7da"/><stop offset="0.0121" stop-color="#a1cbe2"/><stop offset="0.0167" stop-color="#c1d9ed"/><stop offset="0.0212" stop-color="#d3e4f3"/><stop offset="0.0258" stop-color="#ddeaf7"/><stop offset="0.0318" stop-color="#e3eef9"/><stop offset="0.0394" stop-color="#e8f1fa"/><stop offset="0.0485" stop-color="#eaf3fb"/><stop offset="0.0561" stop-color="#ecf4fb"/><stop offset="0.0728" stop-color="#eef5fc"/><stop offset="0.0895" stop-color="#eff6fc"/><stop offset="0.1061" stop-color="#f0f6fd"/><stop offset="0.1213" stop-color="#f1f7fd"/><stop offset="0.1516" stop-color="#f2f7fd"/><stop offset="0.1820" stop-color="#f2f7fd"/><stop offset="0.2214" stop-color="#f2f8fd"/><stop offset="0.2729" stop-color="#f3f8fe"/><stop offset="0.3336" stop-color="#f3f8fe"/><stop offset="0.4094" stop-color="#f3f8fe"/><stop offset="0.5004" stop-color="#f3f8fe"/><stop offset="0.6065" stop-color="#f3f8fe"/><stop offset="0.7582" stop-color="#f3f8fe"/><stop offset="1.0061" stop-color="#f4f9fe"/></linearGradient>
<linearGradient id="ge4" gradientUnits="userSpaceOnUse" x1="0" y1="243.25" x2="0" y2="309.2" spreadMethod="reflect"><stop offset="0.0000" stop-color="#57a0ce"/><stop offset="0.0061" stop-color="#61a7d2"/><stop offset="0.0121" stop-color="#8abfdd"/><stop offset="0.0167" stop-color="#b3d3e8"/><stop offset="0.0212" stop-color="#cde0f1"/><stop offset="0.0258" stop-color="#d9e8f5"/><stop offset="0.0318" stop-color="#e1edf8"/><stop offset="0.0394" stop-color="#e7f0fa"/><stop offset="0.0485" stop-color="#e9f2fa"/><stop offset="0.0561" stop-color="#eaf3fb"/><stop offset="0.0728" stop-color="#edf4fc"/><stop offset="0.0895" stop-color="#eef5fc"/><stop offset="0.1061" stop-color="#eff6fc"/><stop offset="0.1213" stop-color="#f0f6fd"/><stop offset="0.1516" stop-color="#f1f7fd"/><stop offset="0.1820" stop-color="#f2f7fd"/><stop offset="0.2214" stop-color="#f2f8fd"/><stop offset="0.2729" stop-color="#f2f8fd"/><stop offset="0.3336" stop-color="#f3f8fe"/><stop offset="0.4094" stop-color="#f3f8fe"/><stop offset="0.5004" stop-color="#f3f8fe"/><stop offset="0.6065" stop-color="#f3f8fe"/><stop offset="0.7582" stop-color="#f3f8fe"/><stop offset="1.0061" stop-color="#f4f9fe"/></linearGradient>
<linearGradient id="ge5" gradientUnits="userSpaceOnUse" x1="0" y1="243.25" x2="0" y2="309.2" spreadMethod="reflect"><stop offset="0.0000" stop-color="#4090c5"/><stop offset="0.0061" stop-color="#4a98c9"/><stop offset="0.0121" stop-color="#75b4d8"/><stop offset="0.0167" stop-color="#a6cee4"/><stop offset="0.0212" stop-color="#c9ddf0"/><stop offset="0.0258" stop-color="#d6e5f4"/><stop offset="0.0318" stop-color="#deebf7"/><stop offset="0.0394" stop-color="#e4eff9"/><stop offset="0.0485" stop-color="#e7f1fa"/><stop offset="0.0561" stop-color="#e9f2fa"/><stop offset="0.0728" stop-color="#ecf4fb"/><stop offset="0.0895" stop-color="#eef5fc"/><stop offset="0.1061" stop-color="#eef5fc"/><stop offset="0.1213" stop-color="#f0f6fd"/><stop offset="0.1516" stop-color="#f1f7fd"/><stop offset="0.1820" stop-color="#f2f7fd"/><stop offset="0.2214" stop-color="#f2f8fd"/><stop offset="0.2729" stop-color="#f2f8fd"/><stop offset="0.3336" stop-color="#f2f8fd"/><stop offset="0.4094" stop-color="#f3f8fe"/><stop offset="0.5004" stop-color="#f3f8fe"/><stop offset="0.6065" stop-color="#f3f8fe"/><stop offset="0.7582" stop-color="#f3f8fe"/><stop offset="1.0061" stop-color="#f4f9fe"/></linearGradient>
<linearGradient id="ge6" gradientUnits="userSpaceOnUse" x1="0" y1="243.25" x2="0" y2="309.2" spreadMethod="reflect"><stop offset="0.0000" stop-color="#2f7fbc"/><stop offset="0.0061" stop-color="#3888c1"/><stop offset="0.0121" stop-color="#63a8d3"/><stop offset="0.0167" stop-color="#9ac8e0"/><stop offset="0.0212" stop-color="#c2d9ee"/><stop offset="0.0258" stop-color="#d3e3f3"/><stop offset="0.0318" stop-color="#dce9f6"/><stop offset="0.0394" stop-color="#e3eef8"/><stop offset="0.0485" stop-color="#e6f0f9"/><stop offset="0.0561" stop-color="#e8f1fa"/><stop offset="0.0728" stop-color="#ebf3fb"/><stop offset="0.0895" stop-color="#edf4fc"/><stop offset="0.1061" stop-color="#eef5fc"/><stop offset="0.1213" stop-color="#eff6fc"/><stop offset="0.1516" stop-color="#f0f6fd"/><stop offset="0.1820" stop-color="#f1f7fd"/><stop offset="0.2214" stop-color="#f2f8fd"/><stop offset="0.2729" stop-color="#f2f8fd"/><stop offset="0.3336" stop-color="#f2f8fd"/><stop offset="0.4094" stop-color="#f2f8fd"/><stop offset="0.5004" stop-color="#f3f8fe"/><stop offset="0.6065" stop-color="#f3f8fe"/><stop offset="0.7582" stop-color="#f3f8fe"/><stop offset="1.0061" stop-color="#f4f9fe"/></linearGradient>
<linearGradient id="ge7" gradientUnits="userSpaceOnUse" x1="0" y1="243.25" x2="0" y2="309.2" spreadMethod="reflect"><stop offset="0.0000" stop-color="#2070b4"/><stop offset="0.0061" stop-color="#2a7ab9"/><stop offset="0.0121" stop-color="#549fcd"/><stop offset="0.0167" stop-color="#8dc1dd"/><stop offset="0.0212" stop-color="#bcd7eb"/><stop offset="0.0258" stop-color="#d0e1f2"/><stop offset="0.0318" stop-color="#d9e8f5"/><stop offset="0.0394" stop-color="#e1edf8"/><stop offset="0.0485" stop-color="#e5eff9"/><stop offset="0.0561" stop-color="#e7f1fa"/><stop offset="0.0728" stop-color="#eaf3fb"/><stop offset="0.0895" stop-color="#ecf4fb"/><stop offset="0.1061" stop-color="#eef5fc"/><stop offset="0.1213" stop-color="#eef5fc"/><stop offset="0.1516" stop-color="#f0f6fd"/><stop offset="0.1820" stop-color="#f1f7fd"/><stop offset="0.2214" stop-color="#f2f7fd"/><stop offset="0.2729" stop-color="#f2f8fd"/><stop offset="0.3336" stop-color="#f2f8fd"/><stop offset="0.4094" stop-color="#f2f8fd"/><stop offset="0.5004" stop-color="#f3f8fe"/><stop offset="0.6065" stop-color="#f3f8fe"/><stop offset="0.7582" stop-color="#f3f8fe"/><stop offset="1.0061" stop-color="#f4f9fe"/></linearGradient>
<linearGradient id="ge8" gradientUnits="userSpaceOnUse" x1="0" y1="243.25" x2="0" y2="309.2" spreadMethod="reflect"><stop offset="0.0000" stop-color="#1663aa"/><stop offset="0.0061" stop-color="#1f6eb3"/><stop offset="0.0121" stop-color="#4997c9"/><stop offset="0.0167" stop-color="#82bbdb"/><stop offset="0.0212" stop-color="#b7d4ea"/><stop offset="0.0258" stop-color="#cde0f1"/><stop offset="0.0318" stop-color="#d8e7f5"/><stop offset="0.0394" stop-color="#dfecf7"/><stop offset="0.0485" stop-color="#e3eef9"/><stop offset="0.0561" stop-color="#e6f0f9"/><stop offset="0.0728" stop-color="#eaf2fb"/><stop offset="0.0895" stop-color="#ebf3fb"/><stop offset="0.1061" stop-color="#edf4fc"/><stop offset="0.1213" stop-color="#eef5fc"/><stop offset="0.1516" stop-color="#f0f6fd"/><stop offset="0.1820" stop-color="#f1f7fd"/><stop offset="0.2214" stop-color="#f2f7fd"/><stop offset="0.2729" stop-color="#f2f8fd"/><stop offset="0.3336" stop-color="#f2f8fd"/><stop offset="0.4094" stop-color="#f2f8fd"/><stop offset="0.5004" stop-color="#f2f8fd"/><stop offset="0.6065" stop-color="#f3f8fe"/><stop offset="0.7582" stop-color="#f3f8fe"/><stop offset="1.0061" stop-color="#f4f9fe"/></linearGradient>
<linearGradient id="ge9" gradientUnits="userSpaceOnUse" x1="0" y1="243.25" x2="0" y2="309.2" spreadMethod="reflect"><stop offset="0.0000" stop-color="#0f5aa3"/><stop offset="0.0061" stop-color="#1865ac"/><stop offset="0.0121" stop-color="#4090c5"/><stop offset="0.0167" stop-color="#7ab6d9"/><stop offset="0.0212" stop-color="#b2d2e8"/><stop offset="0.0258" stop-color="#cbdef1"/><stop offset="0.0318" stop-color="#d6e6f4"/><stop offset="0.0394" stop-color="#dfebf7"/><stop offset="0.0485" stop-color="#e3eef8"/><stop offset="0.0561" stop-color="#e6f0f9"/><stop offset="0.0728" stop-color="#e9f2fa"/><stop offset="0.0895" stop-color="#ebf3fb"/><stop offset="0.1061" stop-color="#edf4fc"/><stop offset="0.1213" stop-color="#eef5fc"/><stop offset="0.1516" stop-color="#eff6fc"/><stop offset="0.1820" stop-color="#f1f7fd"/><stop offset="0.2214" stop-color="#f2f7fd"/><stop offset="0.2729" stop-color="#f2f8fd"/><stop offset="0.3336" stop-color="#f2f8fd"/><stop offset="0.4094" stop-color="#f2f8fd"/><stop offset="0.5004" stop-color="#f2f8fd"/><stop offset="0.6065" stop-color="#f3f8fe"/><stop offset="0.7582" stop-color="#f3f8fe"/><stop offset="1.0061" stop-color="#f4f9fe"/></linearGradient>
<linearGradient id="ge10" gradientUnits="userSpaceOnUse" x1="0" y1="243.25" x2="0" y2="309.2" spreadMethod="reflect"><stop offset="0.0000" stop-color="#0a539e"/><stop offset="0.0061" stop-color="#135fa7"/><stop offset="0.0121" stop-color="#3b8bc2"/><stop offset="0.0167" stop-color="#75b4d8"/><stop offset="0.0212" stop-color="#afd1e7"/><stop offset="0.0258" stop-color="#cadef0"/><stop offset="0.0318" stop-color="#d6e5f4"/><stop offset="0.0394" stop-color="#deebf7"/><stop offset="0.0485" stop-color="#e2edf8"/><stop offset="0.0561" stop-color="#e5eff9"/><stop offset="0.0728" stop-color="#e9f2fa"/><stop offset="0.0895" stop-color="#ebf3fb"/><stop offset="0.1061" stop-color="#edf4fc"/><stop offset="0.1213" stop-color="#eef5fc"/><stop offset="0.1516" stop-color="#eff6fc"/><stop offset="0.1820" stop-color="#f0f6fd"/><stop offset="0.2214" stop-color="#f2f7fd"/><stop offset="0.2729" stop-color="#f2f8fd"/><stop offset="0.3336" stop-color="#f2f8fd"/><stop offset="0.4094" stop-color="#f2f8fd"/><stop offset="0.5004" stop-color="#f2f8fd"/><stop offset="0.6065" stop-color="#f3f8fe"/><stop offset="0.7582" stop-color="#f3f8fe"/><stop offset="1.0061" stop-color="#f4f9fe"/></linearGradient>
<linearGradient id="ge11" gradientUnits="userSpaceOnUse" x1="0" y1="243.25" x2="0" y2="309.2" spreadMethod="reflect"><stop offset="0.0000" stop-color="#08509b"/><stop offset="0.0061" stop-color="#105ba4"/><stop offset="0.0121" stop-color="#3989c1"/><stop offset="0.0167" stop-color="#72b2d8"/><stop offset="0.0212" stop-color="#aed1e7"/><stop offset="0.0258" stop-color="#caddf0"/><stop offset="0.0318" stop-color="#d6e5f4"/><stop offset="0.0394" stop-color="#deebf7"/><stop offset="0.0485" stop-color="#e2edf8"/><stop offset="0.0561" stop-color="#e5eff9"/><stop offset="0.0728" stop-color="#e9f2fa"/><stop offset="0.0895" stop-color="#eaf3fb"/><stop offset="0.1061" stop-color="#edf4fc"/><stop offset="0.1213" stop-color="#eef5fc"/><stop offset="0.1516" stop-color="#eff6fc"/><stop offset="0.1820" stop-color="#f0f6fd"/><stop offset="0.2214" stop-color="#f2f7fd"/><stop offset="0.2729" stop-color="#f2f7fd"/><stop offset="0.3336" stop-color="#f2f8fd"/><stop offset="0.4094" stop-color="#f2f8fd"/><stop offset="0.5004" stop-color="#f2f8fd"/><stop offset="0.6065" stop-color="#f3f8fe"/><stop offset="0.7582" stop-color="#f3f8fe"/><stop offset="1.0061" stop-color="#f4f9fe"/></linearGradient>
<linearGradient id="ge12" gradientUnits="userSpaceOnUse" x1="0" y1="243.25" x2="0" y2="309.2" spreadMethod="reflect"><stop offset="0.0000" stop-color="#08509b"/><stop offset="0.0061" stop-color="#105ba4"/><stop offset="0.0121" stop-color="#3989c1"/><stop offset="0.0167" stop-color="#72b2d8"/><stop offset="0.0212" stop-color="#aed1e7"/><stop offset="0.0258" stop-color="#caddf0"/><stop offset="0.0318" stop-color="#d6e5f4"/><stop offset="0.0394" stop-color="#deebf7"/><stop offset="0.0485" stop-color="#e2edf8"/><stop offset="0.0561" stop-color="#e5eff9"/><stop offset="0.0728" stop-color="#e9f2fa"/><stop offset="0.0895" stop-color="#eaf3fb"/><stop offset="0.1061" stop-color="#edf4fc"/><stop offset="0.1213" stop-color="#eef5fc"/><stop offset="0.1516" stop-color="#eff6fc"/><stop offset="0.1820" stop-color="#f0f6fd"/><stop offset="0.2214" stop-color="#f2f7fd"/><stop offset="0.2729" stop-color="#f2f7fd"/><stop offset="0.3336" stop-color="#f2f8fd"/><stop offset="0.4094" stop-color="#f2f8fd"/><stop offset="0.5004" stop-color="#f2f8fd"/><stop offset="0.6065" stop-color="#f3f8fe"/><stop offset="0.7582" stop-color="#f3f8fe"/><stop offset="1.0061" stop-color="#f4f9fe"/></linearGradient>
<linearGradient id="ge13" gradientUnits="userSpaceOnUse" x1="0" y1="243.25" x2="0" y2="309.2" spreadMethod="reflect"><stop offset="0.0000" stop-color="#0a539e"/><stop offset="0.0061" stop-color="#135fa7"/><stop offset="0.0121" stop-color="#3b8bc2"/><stop offset="0.0167" stop-color="#75b4d8"/><stop offset="0.0212" stop-color="#afd1e7"/><stop offset="0.0258" stop-color="#cadef0"/><stop offset="0.0318" stop-color="#d6e5f4"/><stop offset="0.0394" stop-color="#deebf7"/><stop offset="0.0485" stop-color="#e2edf8"/><stop offset="0.0561" stop-color="#e5eff9"/><stop offset="0.0728" stop-color="#e9f2fa"/><stop offset="0.0895" stop-color="#ebf3fb"/><stop offset="0.1061" stop-color="#edf4fc"/><stop offset="0.1213" stop-color="#eef5fc"/><stop offset="0.1516" stop-color="#eff6fc"/><stop offset="0.1820" stop-color="#f0f6fd"/><stop offset="0.2214" stop-color="#f2f7fd"/><stop offset="0.2729" stop-color="#f2f8fd"/><stop offset="0.3336" stop-color="#f2f8fd"/><stop offset="0.4094" stop-color="#f2f8fd"/><stop offset="0.5004" stop-color="#f2f8fd"/><stop offset="0.6065" stop-color="#f3f8fe"/><stop offset="0.7582" stop-color="#f3f8fe"/><stop offset="1.0061" stop-color="#f4f9fe"/></linearGradient>
<linearGradient id="ge14" gradientUnits="userSpaceOnUse" x1="0" y1="243.25" x2="0" y2="309.2" spreadMethod="reflect"><stop offset="0.0000" stop-color="#0f5aa3"/><stop offset="0.0061" stop-color="#1865ac"/><stop offset="0.0121" stop-color="#4090c5"/><stop offset="0.0167" stop-color="#7ab6d9"/><stop offset="0.0212" stop-color="#b2d2e8"/><stop offset="0.0258" stop-color="#cbdef1"/><stop offset="0.0318" stop-color="#d6e6f4"/><stop offset="0.0394" stop-color="#dfebf7"/><stop offset="0.0485" stop-color="#e3eef8"/><stop offset="0.0561" stop-color="#e6f0f9"/><stop offset="0.0728" stop-color="#e9f2fa"/><stop offset="0.0895" stop-color="#ebf3fb"/><stop offset="0.1061" stop-color="#edf4fc"/><stop offset="0.1213" stop-color="#eef5fc"/><stop offset="0.1516" stop-color="#eff6fc"/><stop offset="0.1820" stop-color="#f1f7fd"/><stop offset="0.2214" stop-color="#f2f7fd"/><stop offset="0.2729" stop-color="#f2f8fd"/><stop offset="0.3336" stop-color="#f2f8fd"/><stop offset="0.4094" stop-color="#f2f8fd"/><stop offset="0.5004" stop-color="#f2f8fd"/><stop offset="0.6065" stop-color="#f3f8fe"/><stop offset="0.7582" stop-color="#f3f8fe"/><stop offset="1.0061" stop-color="#f4f9fe"/></linearGradient>
<linearGradient id="ge15" gradientUnits="userSpaceOnUse" x1="0" y1="243.25" x2="0" y2="309.2" spreadMethod="reflect"><stop offset="0.0000" stop-color="#1663aa"/><stop offset="0.0061" stop-color="#1f6eb3"/><stop offset="0.0121" stop-color="#4997c9"/><stop offset="0.0167" stop-color="#82bbdb"/><stop offset="0.0212" stop-color="#b7d4ea"/><stop offset="0.0258" stop-color="#cde0f1"/><stop offset="0.0318" stop-color="#d8e7f5"/><stop offset="0.0394" stop-color="#dfecf7"/><stop offset="0.0485" stop-color="#e3eef9"/><stop offset="0.0561" stop-color="#e6f0f9"/><stop offset="0.0728" stop-color="#eaf2fb"/><stop offset="0.0895" stop-color="#ebf3fb"/><stop offset="0.1061" stop-color="#edf4fc"/><stop offset="0.1213" stop-color="#eef5fc"/><stop offset="0.1516" stop-color="#f0f6fd"/><stop offset="0.1820" stop-color="#f1f7fd"/><stop offset="0.2214" stop-color="#f2f7fd"/><stop offset="0.2729" stop-color="#f2f8fd"/><stop offset="0.3336" stop-color="#f2f8fd"/><stop offset="0.4094" stop-color="#f2f8fd"/><stop offset="0.5004" stop-color="#f2f8fd"/><stop offset="0.6065" stop-color="#f3f8fe"/><stop offset="0.7582" stop-color="#f3f8fe"/><stop offset="1.0061" stop-color="#f4f9fe"/></linearGradient>
<linearGradient id="ge16" gradientUnits="userSpaceOnUse" x1="0" y1="243.25" x2="0" y2="309.2" spreadMethod="reflect"><stop offset="0.0000" stop-color="#2070b4"/><stop offset="0.0061" stop-color="#2a7ab9"/><stop offset="0.0121" stop-color="#549fcd"/><stop offset="0.0167" stop-color="#8dc1dd"/><stop offset="0.0212" stop-color="#bcd7eb"/><stop offset="0.0258" stop-color="#d0e1f2"/><stop offset="0.0318" stop-color="#d9e8f5"/><stop offset="0.0394" stop-color="#e1edf8"/><stop offset="0.0485" stop-color="#e5eff9"/><stop offset="0.0561" stop-color="#e7f1fa"/><stop offset="0.0728" stop-color="#eaf3fb"/><stop offset="0.0895" stop-color="#ecf4fb"/><stop offset="0.1061" stop-color="#eef5fc"/><stop offset="0.1213" stop-color="#eef5fc"/><stop offset="0.1516" stop-color="#f0f6fd"/><stop offset="0.1820" stop-color="#f1f7fd"/><stop offset="0.2214" stop-color="#f2f7fd"/><stop offset="0.2729" stop-color="#f2f8fd"/><stop offset="0.3336" stop-color="#f2f8fd"/><stop offset="0.4094" stop-color="#f2f8fd"/><stop offset="0.5004" stop-color="#f3f8fe"/><stop offset="0.6065" stop-color="#f3f8fe"/><stop offset="0.7582" stop-color="#f3f8fe"/><stop offset="1.0061" stop-color="#f4f9fe"/></linearGradient>
<linearGradient id="ge17" gradientUnits="userSpaceOnUse" x1="0" y1="243.25" x2="0" y2="309.2" spreadMethod="reflect"><stop offset="0.0000" stop-color="#2f7fbc"/><stop offset="0.0061" stop-color="#3888c1"/><stop offset="0.0121" stop-color="#63a8d3"/><stop offset="0.0167" stop-color="#9ac8e0"/><stop offset="0.0212" stop-color="#c2d9ee"/><stop offset="0.0258" stop-color="#d3e3f3"/><stop offset="0.0318" stop-color="#dce9f6"/><stop offset="0.0394" stop-color="#e3eef8"/><stop offset="0.0485" stop-color="#e6f0f9"/><stop offset="0.0561" stop-color="#e8f1fa"/><stop offset="0.0728" stop-color="#ebf3fb"/><stop offset="0.0895" stop-color="#edf4fc"/><stop offset="0.1061" stop-color="#eef5fc"/><stop offset="0.1213" stop-color="#eff6fc"/><stop offset="0.1516" stop-color="#f0f6fd"/><stop offset="0.1820" stop-color="#f1f7fd"/><stop offset="0.2214" stop-color="#f2f8fd"/><stop offset="0.2729" stop-color="#f2f8fd"/><stop offset="0.3336" stop-color="#f2f8fd"/><stop offset="0.4094" stop-color="#f2f8fd"/><stop offset="0.5004" stop-color="#f3f8fe"/><stop offset="0.6065" stop-color="#f3f8fe"/><stop offset="0.7582" stop-color="#f3f8fe"/><stop offset="1.0061" stop-color="#f4f9fe"/></linearGradient>
<linearGradient id="ge18" gradientUnits="userSpaceOnUse" x1="0" y1="243.25" x2="0" y2="309.2" spreadMethod="reflect"><stop offset="0.0000" stop-color="#4090c5"/><stop offset="0.0061" stop-color="#4a98c9"/><stop offset="0.0121" stop-color="#75b4d8"/><stop offset="0.0167" stop-color="#a6cee4"/><stop offset="0.0212" stop-color="#c9ddf0"/><stop offset="0.0258" stop-color="#d6e5f4"/><stop offset="0.0318" stop-color="#deebf7"/><stop offset="0.0394" stop-color="#e4eff9"/><stop offset="0.0485" stop-color="#e7f1fa"/><stop offset="0.0561" stop-color="#e9f2fa"/><stop offset="0.0728" stop-color="#ecf4fb"/><stop offset="0.0895" stop-color="#eef5fc"/><stop offset="0.1061" stop-color="#eef5fc"/><stop offset="0.1213" stop-color="#f0f6fd"/><stop offset="0.1516" stop-color="#f1f7fd"/><stop offset="0.1820" stop-color="#f2f7fd"/><stop offset="0.2214" stop-color="#f2f8fd"/><stop offset="0.2729" stop-color="#f2f8fd"/><stop offset="0.3336" stop-color="#f2f8fd"/><stop offset="0.4094" stop-color="#f3f8fe"/><stop offset="0.5004" stop-color="#f3f8fe"/><stop offset="0.6065" stop-color="#f3f8fe"/><stop offset="0.7582" stop-color="#f3f8fe"/><stop offset="1.0061" stop-color="#f4f9fe"/></linearGradient>
<linearGradient id="ge19" gradientUnits="userSpaceOnUse" x1="0" y1="243.25" x2="0" y2="309.2" spreadMethod="reflect"><stop offset="0.0000" stop-color="#57a0ce"/><stop offset="0.0061" stop-color="#61a7d2"/><stop offset="0.0121" stop-color="#8abfdd"/><stop offset="0.0167" stop-color="#b3d3e8"/><stop offset="0.0212" stop-color="#cde0f1"/><stop offset="0.0258" stop-color="#d9e8f5"/><stop offset="0.0318" stop-color="#e1edf8"/><stop offset="0.0394" stop-color="#e7f0fa"/><stop offset="0.0485" stop-color="#e9f2fa"/><stop offset="0.0561" stop-color="#eaf3fb"/><stop offset="0.0728" stop-color="#edf4fc"/><stop offset="0.0895" stop-color="#eef5fc"/><stop offset="0.1061" stop-color="#eff6fc"/><stop offset="0.1213" stop-color="#f0f6fd"/><stop offset="0.1516" stop-color="#f1f7fd"/><stop offset="0.1820" stop-color="#f2f7fd"/><stop offset="0.2214" stop-color="#f2f8fd"/><stop offset="0.2729" stop-color="#f2f8fd"/><stop offset="0.3336" stop-color="#f3f8fe"/><stop offset="0.4094" stop-color="#f3f8fe"/><stop offset="0.5004" stop-color="#f3f8fe"/><stop offset="0.6065" stop-color="#f3f8fe"/><stop offset="0.7582" stop-color="#f3f8fe"/><stop offset="1.0061" stop-color="#f4f9fe"/></linearGradient>
<linearGradient id="ge20" gradientUnits="userSpaceOnUse" x1="0" y1="243.25" x2="0" y2="309.2" spreadMethod="reflect"><stop offset="0.0000" stop-color="#72b2d8"/><stop offset="0.0061" stop-color="#7cb7da"/><stop offset="0.0121" stop-color="#a1cbe2"/><stop offset="0.0167" stop-color="#c1d9ed"/><stop offset="0.0212" stop-color="#d3e4f3"/><stop offset="0.0258" stop-color="#ddeaf7"/><stop offset="0.0318" stop-color="#e3eef9"/><stop offset="0.0394" stop-color="#e8f1fa"/><stop offset="0.0485" stop-color="#eaf3fb"/><stop offset="0.0561" stop-color="#ecf4fb"/><stop offset="0.0728" stop-color="#eef5fc"/><stop offset="0.0895" stop-color="#eff6fc"/><stop offset="0.1061" stop-color="#f0f6fd"/><stop offset="0.1213" stop-color="#f1f7fd"/><stop offset="0.1516" stop-color="#f2f7fd"/><stop offset="0.1820" stop-color="#f2f7fd"/><stop offset="0.2214" stop-color="#f2f8fd"/><stop offset="0.2729" stop-color="#f3f8fe"/><stop offset="0.3336" stop-color="#f3f8fe"/><stop offset="0.4094" stop-color="#f3f8fe"/><stop offset="0.5004" stop-color="#f3f8fe"/><stop offset="0.6065" stop-color="#f3f8fe"/><stop offset="0.7582" stop-color="#f3f8fe"/><stop offset="1.0061" stop-color="#f4f9fe"/></linearGradient>
<linearGradient id="ge21" gradientUnits="userSpaceOnUse" x1="0" y1="243.25" x2="0" y2="309.2" spreadMethod="reflect"><stop offset="0.0000" stop-color="#92c4de"/><stop offset="0.0061" stop-color="#9ac8e0"/><stop offset="0.0121" stop-color="#b4d3e9"/><stop offset="0.0167" stop-color="#cbdef1"/><stop offset="0.0212" stop-color="#d9e7f5"/><stop offset="0.0258" stop-color="#e1edf8"/><stop offset="0.0318" stop-color="#e7f0fa"/><stop offset="0.0394" stop-color="#eaf3fb"/><stop offset="0.0485" stop-color="#ecf4fb"/><stop offset="0.0561" stop-color="#eef5fc"/><stop offset="0.0728" stop-color="#eff6fc"/><stop offset="0.0895" stop-color="#f0f6fd"/><stop offset="0.1061" stop-color="#f1f7fd"/><stop offset="0.1213" stop-color="#f2f7fd"/><stop offset="0.1516" stop-color="#f2f7fd"/><stop offset="0.1820" stop-color="#f2f8fd"/><stop offset="0.2214" stop-color="#f3f8fe"/><stop offset="0.2729" stop-color="#f3f8fe"/><stop offset="0.3336" stop-color="#f3f8fe"/><stop offset="0.4094" stop-color="#f3f8fe"/><stop offset="0.5004" stop-color="#f3f8fe"/><stop offset="0.6065" stop-color="#f3f8fe"/><stop offset="0.7582" stop-color="#f4f9fe"/><stop offset="1.0061" stop-color="#f4f9fe"/></linearGradient>
<linearGradient id="ge22" gradientUnits="userSpaceOnUse" x1="0" y1="243.25" x2="0" y2="309.2" spreadMethod="reflect"><stop offset="0.0000" stop-color="#aed1e7"/><stop offset="0.0061" stop-color="#b3d3e8"/><stop offset="0.0121" stop-color="#c7dbef"/><stop offset="0.0167" stop-color="#d3e4f3"/><stop offset="0.0212" stop-color="#deebf7"/><stop offset="0.0258" stop-color="#e5eff9"/><stop offset="0.0318" stop-color="#eaf2fb"/><stop offset="0.0394" stop-color="#edf4fc"/><stop offset="0.0485" stop-color="#eef5fc"/><stop offset="0.0561" stop-color="#eff6fc"/><stop offset="0.0728" stop-color="#f0f6fd"/><stop offset="0.0895" stop-color="#f1f7fd"/><stop offset="0.1061" stop-color="#f2f7fd"/><stop offset="0.1213" stop-color="#f2f7fd"/><stop offset="0.1516" stop-color="#f2f8fd"/><stop offset="0.1820" stop-color="#f2f8fd"/><stop offset="0.2214" stop-color="#f3f8fe"/><stop offset="0.2729" stop-color="#f3f8fe"/><stop offset="0.3336" stop-color="#f3f8fe"/><stop offset="0.4094" stop-color="#f3f8fe"/><stop offset="0.5004" stop-color="#f3f8fe"/><stop offset="0.6065" stop-color="#f3f8fe"/><stop offset="0.7582" stop-color="#f4f9fe"/><stop offset="1.0061" stop-color="#f4f9fe"/></linearGradient>
<linearGradient id="ge23" gradientUnits="userSpaceOnUse" x1="0" y1="243.25" x2="0" y2="309.2" spreadMethod="reflect"><stop offset="0.0000" stop-color="#c4daee"/><stop offset="0.0061" stop-color="#c7dcef"/><stop offset="0.0121" stop-color="#d0e2f2"/><stop offset="0.0167" stop-color="#dae8f6"/><stop offset="0.0212" stop-color="#e3eef9"/><stop offset="0.0258" stop-color="#e9f2fa"/><stop offset="0.0318" stop-color="#ecf4fb"/><stop offset="0.0394" stop-color="#eef5fc"/><stop offset="0.0485" stop-color="#f0f6fd"/><stop offset="0.0561" stop-color="#f0f6fd"/><stop offset="0.0728" stop-color="#f2f7fd"/><stop offset="0.0895" stop-color="#f2f7fd"/><stop offset="0.1061" stop-color="#f2f8fd"/><stop offset="0.1213" stop-color="#f2f8fd"/><stop offset="0.1516" stop-color="#f2f8fd"/><stop offset="0.1820" stop-color="#f3f8fe"/><stop offset="0.2214" stop-color="#f3f8fe"/><stop offset="0.2729" stop-color="#f3f8fe"/><stop offset="0.3336" stop-color="#f3f8fe"/><stop offset="0.4094" stop-color="#f3f8fe"/><stop offset="0.5004" stop-color="#f3f8fe"/><stop offset="0.6065" stop-color="#f4f9fe"/><stop offset="0.7582" stop-color="#f4f9fe"/><stop offset="1.0061" stop-color="#f4f9fe"/></linearGradient>
<linearGradient id="ce" x1="0" x2="0" y1="0" y2="1"><stop offset="0" stop-color="#08306b"/><stop offset="0.05" stop-color="#083c7d"/><stop offset="0.1" stop-color="#084a91"/><stop offset="0.15" stop-color="#0d57a1"/><stop offset="0.2" stop-color="#1764ab"/><stop offset="0.25" stop-color="#2070b4"/><stop offset="0.3" stop-color="#2e7ebc"/><stop offset="0.35" stop-color="#3b8bc2"/><stop offset="0.4" stop-color="#4a98c9"/><stop offset="0.45" stop-color="#5ba3d0"/><stop offset="0.5" stop-color="#6aaed6"/><stop offset="0.55" stop-color="#7fb9da"/><stop offset="0.6" stop-color="#94c4df"/><stop offset="0.65" stop-color="#a6cee4"/><stop offset="0.7" stop-color="#b7d4ea"/><stop offset="0.75" stop-color="#c6dbef"/><stop offset="0.8" stop-color="#d0e1f2"/><stop offset="0.85" stop-color="#d9e8f5"/><stop offset="0.9" stop-color="#e3eef9"/><stop offset="0.95" stop-color="#eef5fc"/><stop offset="1" stop-color="#f7fbff"/></linearGradient>
<clipPath id="kf"><rect x="485.5" y="176.5" width="142.5" height="132.7"/></clipPath>
<filter id="bf" x="-10%" y="-5%" width="120%" height="110%" color-interpolation-filters="sRGB"><feGaussianBlur stdDeviation="1.6 0"/></filter>
<linearGradient id="gf0" gradientUnits="userSpaceOnUse" x1="0" y1="176.9" x2="0" y2="309.6"><stop offset="0.0000" stop-color="#010005"/><stop offset="0.1232" stop-color="#010106"/><stop offset="0.1986" stop-color="#02020c"/><stop offset="0.2513" stop-color="#050417"/><stop offset="0.2965" stop-color="#0e092b"/><stop offset="0.3342" stop-color="#1c0c43"/><stop offset="0.3644" stop-color="#2d0b59"/><stop offset="0.3900" stop-color="#400a67"/><stop offset="0.4096" stop-color="#550f6d"/><stop offset="0.4246" stop-color="#6c186e"/><stop offset="0.4397" stop-color="#87216b"/><stop offset="0.4472" stop-color="#972766"/><stop offset="0.4555" stop-color="#a92e5e"/><stop offset="0.4638" stop-color="#bc3754"/><stop offset="0.4721" stop-color="#cb4149"/><stop offset="0.4759" stop-color="#d24644"/><stop offset="0.4804" stop-color="#d74b3f"/><stop offset="0.4842" stop-color="#d74b3f"/><stop offset="0.4872" stop-color="#d04545"/><stop offset="0.4894" stop-color="#c63d4d"/><stop offset="0.4917" stop-color="#b93556"/><stop offset="0.4940" stop-color="#9d2964"/><stop offset="0.4970" stop-color="#6a176e"/><stop offset="0.5000" stop-color="#420a68"/><stop offset="0.5030" stop-color="#741a6e"/><stop offset="0.5060" stop-color="#ab2f5e"/><stop offset="0.5083" stop-color="#c33b4f"/><stop offset="0.5106" stop-color="#cf4446"/><stop offset="0.5128" stop-color="#d74b3f"/><stop offset="0.5158" stop-color="#d84c3e"/><stop offset="0.5196" stop-color="#d54a41"/><stop offset="0.5241" stop-color="#ce4347"/><stop offset="0.5279" stop-color="#c83f4b"/><stop offset="0.5362" stop-color="#b73557"/><stop offset="0.5445" stop-color="#a32c61"/><stop offset="0.5528" stop-color="#902568"/><stop offset="0.5603" stop-color="#82206c"/><stop offset="0.5754" stop-color="#67166e"/><stop offset="0.5904" stop-color="#520e6d"/><stop offset="0.6100" stop-color="#3e0966"/><stop offset="0.6356" stop-color="#2b0b57"/><stop offset="0.6658" stop-color="#1b0c41"/><stop offset="0.7035" stop-color="#0d0829"/><stop offset="0.7487" stop-color="#050417"/><stop offset="0.8014" stop-color="#02020c"/><stop offset="0.8768" stop-color="#010106"/><stop offset="1.0000" stop-color="#010005"/></linearGradient>
<linearGradient id="gf1" gradientUnits="userSpaceOnUse" x1="0" y1="176.9" x2="0" y2="309.6"><stop offset="0.0000" stop-color="#010005"/><stop offset="0.1232" stop-color="#010106"/><stop offset="0.1986" stop-color="#02020c"/><stop offset="0.2513" stop-color="#050417"/><stop offset="0.2965" stop-color="#0e092b"/><stop offset="0.3342" stop-color="#1c0c43"/><stop offset="0.3644" stop-color="#2d0b59"/><stop offset="0.3900" stop-color="#420a68"/><stop offset="0.4096" stop-color="#550f6d"/><stop offset="0.4246" stop-color="#6c186e"/><stop offset="0.4397" stop-color="#87216b"/><stop offset="0.4472" stop-color="#972766"/><stop offset="0.4555" stop-color="#a92e5e"/><stop offset="0.4638" stop-color="#bd3853"/><stop offset="0.4721" stop-color="#ce4347"/><stop offset="0.4759" stop-color="#d44842"/><stop offset="0.4804" stop-color="#d94d3d"/><stop offset="0.4842" stop-color="#da4e3c"/><stop offset="0.4872" stop-color="#d44842"/><stop offset="0.4894" stop-color="#ca404a"/><stop offset="0.4917" stop-color="#bc3754"/><stop offset="0.4940" stop-color="#a02a63"/><stop offset="0.4970" stop-color="#6c186e"/><stop offset="0.5000" stop-color="#420a68"/><stop offset="0.5030" stop-color="#751b6e"/><stop offset="0.5060" stop-color="#ae305c"/><stop offset="0.5083" stop-color="#c63d4d"/><stop offset="0.5106" stop-color="#d34743"/><stop offset="0.5128" stop-color="#d94d3d"/><stop offset="0.5158" stop-color="#da4e3c"/><stop offset="0.5196" stop-color="#d74b3f"/><stop offset="0.5241" stop-color="#d04545"/><stop offset="0.5279" stop-color="#ca404a"/><stop offset="0.5362" stop-color="#b73557"/><stop offset="0.5445" stop-color="#a52c60"/><stop offset="0.5528" stop-color="#922568"/><stop offset="0.5603" stop-color="#84206b"/><stop offset="0.5754" stop-color="#67166e"/><stop offset="0.5904" stop-color="#520e6d"/><stop offset="0.6100" stop-color="#3e0966"/><stop offset="0.6356" stop-color="#2b0b57"/><stop offset="0.6658" stop-color="#1b0c41"/><stop offset="0.7035" stop-color="#0d0829"/><stop offset="0.7487" stop-color="#050417"/><stop offset="0.8014" stop-color="#02020c"/><stop offset="0.8768" stop-color="#010106"/><stop offset="1.0000" stop-color="#010005"/></linearGradient>
<linearGradient id="gf2" gradientUnits="userSpaceOnUse" x1="0" y1="176.9" x2="0" y2="309.6"><stop offset="0.0000" stop-color="#010005"/><stop offset="0.1232" stop-color="#010106"/><stop offset="0.1986" stop-color="#02020c"/><stop offset="0.2513" stop-color="#050417"/><stop offset="0.2965" stop-color="#0e092b"/><stop offset="0.3342" stop-color="#1c0c43"/><stop offset="0.3644" stop-color="#2d0b59"/><stop offset="0.3900" stop-color="#420a68"/><stop offset="0.4096" stop-color="#550f6d"/><stop offset="0.4246" stop-color="#6c186e"/><stop offset="0.4397" stop-color="#88226a"/><stop offset="0.4472" stop-color="#982766"/><stop offset="0.4555" stop-color="#ab2f5e"/><stop offset="0.4638" stop-color="#bf3952"/><stop offset="0.4721" stop-color="#d04545"/><stop offset="0.4759" stop-color="#d84c3e"/><stop offset="0.4804" stop-color="#de5238"/><stop offset="0.4842" stop-color="#df5337"/><stop offset="0.4872" stop-color="#d94d3d"/><stop offset="0.4894" stop-color="#cf4446"/><stop offset="0.4917" stop-color="#c13a50"/><stop offset="0.4940" stop-color="#a52c60"/><stop offset="0.4970" stop-color="#6f196e"/><stop offset="0.5000" stop-color="#450a69"/><stop offset="0.5030" stop-color="#7a1d6d"/><stop offset="0.5060" stop-color="#b3325a"/><stop offset="0.5083" stop-color="#cb4149"/><stop offset="0.5106" stop-color="#d84c3e"/><stop offset="0.5128" stop-color="#df5337"/><stop offset="0.5158" stop-color="#df5337"/><stop offset="0.5196" stop-color="#db503b"/><stop offset="0.5241" stop-color="#d44842"/><stop offset="0.5279" stop-color="#cc4248"/><stop offset="0.5362" stop-color="#ba3655"/><stop offset="0.5445" stop-color="#a62d60"/><stop offset="0.5528" stop-color="#922568"/><stop offset="0.5603" stop-color="#84206b"/><stop offset="0.5754" stop-color="#69166e"/><stop offset="0.5904" stop-color="#540f6d"/><stop offset="0.6100" stop-color="#3e0966"/><stop offset="0.6356" stop-color="#2b0b57"/><stop offset="0.6658" stop-color="#1b0c41"/><stop offset="0.7035" stop-color="#0d0829"/><stop offset="0.7487" stop-color="#050417"/><stop offset="0.8014" stop-color="#02020c"/><stop offset="0.8768" stop-color="#010106"/><stop offset="1.0000" stop-color="#010005"/></linearGradient>
<linearGradient id="gf3" gradientUnits="userSpaceOnUse" x1="0" y1="176.9" x2="0" y2="309.6"><stop offset="0.0000" stop-color="#010005"/><stop offset="0.1232" stop-color="#010106"/><stop offset="0.1986" stop-color="#02020c"/><stop offset="0.2513" stop-color="#050417"/><stop offset="0.2965" stop-color="#0e092b"/><stop offset="0.3342" stop-color="#1c0c43"/><stop offset="0.3644" stop-color="#2d0b59"/><stop offset="0.3900" stop-color="#420a68"/><stop offset="0.4096" stop-color="#550f6d"/><stop offset="0.4246" stop-color="#6d186e"/><stop offset="0.4397" stop-color="#8a226a"/><stop offset="0.4472" stop-color="#9a2865"/><stop offset="0.4555" stop-color="#ae305c"/><stop offset="0.4638" stop-color="#c33b4f"/><stop offset="0.4721" stop-color="#d54a41"/><stop offset="0.4759" stop-color="#de5238"/><stop offset="0.4804" stop-color="#e45a31"/><stop offset="0.4842" stop-color="#e65d2f"/><stop offset="0.4872" stop-color="#e15635"/><stop offset="0.4894" stop-color="#d84c3e"/><stop offset="0.4917" stop-color="#cb4149"/><stop offset="0.4940" stop-color="#ae305c"/><stop offset="0.4970" stop-color="#771c6d"/><stop offset="0.5000" stop-color="#4c0c6b"/><stop offset="0.5030" stop-color="#82206c"/><stop offset="0.5060" stop-color="#bc3754"/><stop offset="0.5083" stop-color="#d44842"/><stop offset="0.5106" stop-color="#e05536"/><stop offset="0.5128" stop-color="#e65d2f"/><stop offset="0.5158" stop-color="#e55c30"/><stop offset="0.5196" stop-color="#e15635"/><stop offset="0.5241" stop-color="#d94d3d"/><stop offset="0.5279" stop-color="#d24644"/><stop offset="0.5362" stop-color="#bd3853"/><stop offset="0.5445" stop-color="#a92e5e"/><stop offset="0.5528" stop-color="#952667"/><stop offset="0.5603" stop-color="#85216b"/><stop offset="0.5754" stop-color="#69166e"/><stop offset="0.5904" stop-color="#540f6d"/><stop offset="0.6100" stop-color="#400a67"/><stop offset="0.6356" stop-color="#2b0b57"/><stop offset="0.6658" stop-color="#1b0c41"/><stop offset="0.7035" stop-color="#0d0829"/><stop offset="0.7487" stop-color="#050417"/><stop offset="0.8014" stop-color="#02020c"/><stop offset="0.8768" stop-color="#010106"/><stop offset="1.0000" stop-color="#010005"/></linearGradient>
<linearGradient id="gf4" gradientUnits="userSpaceOnUse" x1="0" y1="176.9" x2="0" y2="309.6"><stop offset="0.0000" stop-color="#010005"/><stop offset="0.1232" stop-color="#010106"/><stop offset="0.1986" stop-color="#02020c"/><stop offset="0.2513" stop-color="#050417"/><stop offset="0.2965" stop-color="#0e092b"/><stop offset="0.3342" stop-color="#1c0c43"/><stop offset="0.3644" stop-color="#2d0b59"/><stop offset="0.3900" stop-color="#420a68"/><stop offset="0.4096" stop-color="#57106e"/><stop offset="0.4246" stop-color="#6d186e"/><stop offset="0.4397" stop-color="#8c2369"/><stop offset="0.4472" stop-color="#9d2964"/><stop offset="0.4555" stop-color="#b1325a"/><stop offset="0.4638" stop-color="#c73e4c"/><stop offset="0.4721" stop-color="#db503b"/><stop offset="0.4759" stop-color="#e45a31"/><stop offset="0.4804" stop-color="#eb6429"/><stop offset="0.4842" stop-color="#ed6925"/><stop offset="0.4872" stop-color="#ea632a"/><stop offset="0.4894" stop-color="#e15635"/><stop offset="0.4917" stop-color="#d44842"/><stop offset="0.4940" stop-color="#ba3655"/><stop offset="0.4970" stop-color="#84206b"/><stop offset="0.5000" stop-color="#59106e"/><stop offset="0.5030" stop-color="#8d2369"/><stop offset="0.5060" stop-color="#c73e4c"/><stop offset="0.5083" stop-color="#de5238"/><stop offset="0.5106" stop-color="#e8602d"/><stop offset="0.5128" stop-color="#ed6925"/><stop offset="0.5158" stop-color="#ec6726"/><stop offset="0.5196" stop-color="#e8602d"/><stop offset="0.5241" stop-color="#df5337"/><stop offset="0.5279" stop-color="#d74b3f"/><stop offset="0.5362" stop-color="#c33b4f"/><stop offset="0.5445" stop-color="#ad305d"/><stop offset="0.5528" stop-color="#972766"/><stop offset="0.5603" stop-color="#87216b"/><stop offset="0.5754" stop-color="#6a176e"/><stop offset="0.5904" stop-color="#540f6d"/><stop offset="0.6100" stop-color="#400a67"/><stop offset="0.6356" stop-color="#2b0b57"/><stop offset="0.6658" stop-color="#1b0c41"/><stop offset="0.7035" stop-color="#0d0829"/><stop offset="0.7487" stop-color="#050417"/><stop offset="0.8014" stop-color="#02020c"/><stop offset="0.8768" stop-color="#010106"/><stop offset="1.0000" stop-color="#010005"/></linearGradient>
<linearGradient id="gf5" gradientUnits="userSpaceOnUse" x1="0" y1="176.9" x2="0" y2="309.6"><stop offset="0.0000" stop-color="#010005"/><stop offset="0.1232" stop-color="#010106"/><stop offset="0.1986" stop-color="#02020c"/><stop offset="0.2513" stop-color="#050417"/><stop offset="0.2965" stop-color="#0e092b"/><stop offset="0.3342" stop-color="#1c0c43"/><stop offset="0.3644" stop-color="#2d0b59"/><stop offset="0.3900" stop-color="#420a68"/><stop offset="0.4096" stop-color="#57106e"/><stop offset="0.4246" stop-color="#6f196e"/><stop offset="0.4397" stop-color="#8d2369"/><stop offset="0.4472" stop-color="#a02a63"/><stop offset="0.4555" stop-color="#b63458"/><stop offset="0.4638" stop-color="#cc4248"/><stop offset="0.4721" stop-color="#e25734"/><stop offset="0.4759" stop-color="#eb6429"/><stop offset="0.4804" stop-color="#f1731d"/><stop offset="0.4842" stop-color="#f47918"/><stop offset="0.4872" stop-color="#f1711f"/><stop offset="0.4894" stop-color="#eb6429"/><stop offset="0.4917" stop-color="#e05536"/><stop offset="0.4940" stop-color="#c83f4b"/><stop offset="0.4970" stop-color="#952667"/><stop offset="0.5000" stop-color="#6c186e"/><stop offset="0.5030" stop-color="#9f2a63"/><stop offset="0.5060" stop-color="#d44842"/><stop offset="0.5083" stop-color="#e8602d"/><stop offset="0.5106" stop-color="#f06f20"/><stop offset="0.5128" stop-color="#f47918"/><stop offset="0.5158" stop-color="#f3761b"/><stop offset="0.5196" stop-color="#ef6c23"/><stop offset="0.5241" stop-color="#e65d2f"/><stop offset="0.5279" stop-color="#dd513a"/><stop offset="0.5362" stop-color="#c73e4c"/><stop offset="0.5445" stop-color="#b0315b"/><stop offset="0.5528" stop-color="#9a2865"/><stop offset="0.5603" stop-color="#88226a"/><stop offset="0.5754" stop-color="#6a176e"/><stop offset="0.5904" stop-color="#540f6d"/><stop offset="0.6100" stop-color="#400a67"/><stop offset="0.6356" stop-color="#2b0b57"/><stop offset="0.6658" stop-color="#1b0c41"/><stop offset="0.7035" stop-color="#0d0829"/><stop offset="0.7487" stop-color="#050417"/><stop offset="0.8014" stop-color="#02020c"/><stop offset="0.8768" stop-color="#010106"/><stop offset="1.0000" stop-color="#010005"/></linearGradient>
<linearGradient id="gf6" gradientUnits="userSpaceOnUse" x1="0" y1="176.9" x2="0" y2="309.6"><stop offset="0.0000" stop-color="#010005"/><stop offset="0.1232" stop-color="#010106"/><stop offset="0.1986" stop-color="#02020c"/><stop offset="0.2513" stop-color="#050417"/><stop offset="0.2965" stop-color="#0e092b"/><stop offset="0.3342" stop-color="#1c0c43"/><stop offset="0.3644" stop-color="#2d0b59"/><stop offset="0.3900" stop-color="#420a68"/><stop offset="0.4096" stop-color="#59106e"/><stop offset="0.4246" stop-color="#71196e"/><stop offset="0.4397" stop-color="#902568"/><stop offset="0.4472" stop-color="#a32c61"/><stop offset="0.4555" stop-color="#ba3655"/><stop offset="0.4638" stop-color="#d34743"/><stop offset="0.4721" stop-color="#e9612b"/><stop offset="0.4759" stop-color="#f06f20"/><stop offset="0.4804" stop-color="#f78212"/><stop offset="0.4842" stop-color="#f98b0b"/><stop offset="0.4872" stop-color="#f78410"/><stop offset="0.4894" stop-color="#f3761b"/><stop offset="0.4917" stop-color="#eb6429"/><stop offset="0.4940" stop-color="#d84c3e"/><stop offset="0.4970" stop-color="#ad305d"/><stop offset="0.5000" stop-color="#88226a"/><stop offset="0.5030" stop-color="#b63458"/><stop offset="0.5060" stop-color="#e25734"/><stop offset="0.5083" stop-color="#f1731d"/><stop offset="0.5106" stop-color="#f68013"/><stop offset="0.5128" stop-color="#fa9008"/><stop offset="0.5158" stop-color="#f8870e"/><stop offset="0.5196" stop-color="#f47918"/><stop offset="0.5241" stop-color="#eb6628"/><stop offset="0.5279" stop-color="#e35933"/><stop offset="0.5362" stop-color="#cc4248"/><stop offset="0.5445" stop-color="#b43359"/><stop offset="0.5528" stop-color="#9d2964"/><stop offset="0.5603" stop-color="#8c2369"/><stop offset="0.5754" stop-color="#6c186e"/><stop offset="0.5904" stop-color="#550f6d"/><stop offset="0.6100" stop-color="#400a67"/><stop offset="0.6356" stop-color="#2b0b57"/><stop offset="0.6658" stop-color="#1b0c41"/><stop offset="0.7035" stop-color="#0d0829"/><stop offset="0.7487" stop-color="#050417"/><stop offset="0.8014" stop-color="#02020c"/><stop offset="0.8768" stop-color="#010106"/><stop offset="1.0000" stop-color="#010005"/></linearGradient>
<linearGradient id="gf7" gradientUnits="userSpaceOnUse" x1="0" y1="176.9" x2="0" y2="309.6"><stop offset="0.0000" stop-color="#010005"/><stop offset="0.1232" stop-color="#010106"/><stop offset="0.1986" stop-color="#02020c"/><stop offset="0.2513" stop-color="#050417"/><stop offset="0.2965" stop-color="#0e092b"/><stop offset="0.3342" stop-color="#1c0c43"/><stop offset="0.3644" stop-color="#2d0b59"/><stop offset="0.3900" stop-color="#440a68"/><stop offset="0.4096" stop-color="#59106e"/><stop offset="0.4246" stop-color="#721a6e"/><stop offset="0.4397" stop-color="#922568"/><stop offset="0.4472" stop-color="#a62d60"/><stop offset="0.4555" stop-color="#c03a51"/><stop offset="0.4638" stop-color="#d94d3d"/><stop offset="0.4721" stop-color="#ef6c23"/><stop offset="0.4759" stop-color="#f67e14"/><stop offset="0.4804" stop-color="#fa9407"/><stop offset="0.4842" stop-color="#fc9f07"/><stop offset="0.4872" stop-color="#fb9606"/><stop offset="0.4894" stop-color="#f98b0b"/><stop offset="0.4917" stop-color="#f37819"/><stop offset="0.4940" stop-color="#e8602d"/><stop offset="0.4970" stop-color="#c63d4d"/><stop offset="0.5000" stop-color="#a82e5f"/><stop offset="0.5030" stop-color="#ce4347"/><stop offset="0.5060" stop-color="#ee6a24"/><stop offset="0.5083" stop-color="#f8870e"/><stop offset="0.5106" stop-color="#fa9407"/><stop offset="0.5128" stop-color="#fca309"/><stop offset="0.5158" stop-color="#fb9906"/><stop offset="0.5196" stop-color="#f8890c"/><stop offset="0.5241" stop-color="#f1711f"/><stop offset="0.5279" stop-color="#e9612b"/><stop offset="0.5362" stop-color="#d24644"/><stop offset="0.5445" stop-color="#b93556"/><stop offset="0.5528" stop-color="#a02a63"/><stop offset="0.5603" stop-color="#8d2369"/><stop offset="0.5754" stop-color="#6d186e"/><stop offset="0.5904" stop-color="#550f6d"/><stop offset="0.6100" stop-color="#400a67"/><stop offset="0.6356" stop-color="#2d0b59"/><stop offset="0.6658" stop-color="#1b0c41"/><stop offset="0.7035" stop-color="#0d0829"/><stop offset="0.7487" stop-color="#050417"/><stop offset="0.8014" stop-color="#02020c"/><stop offset="0.8768" stop-color="#010106"/><stop offset="1.0000" stop-color="#010005"/></linearGradient>
<linearGradient id="gf8" gradientUnits="userSpaceOnUse" x1="0" y1="176.9" x2="0" y2="309.6"><stop offset="0.0000" stop-color="#010005"/><stop offset="0.1232" stop-color="#010106"/><stop offset="0.1986" stop-color="#02020c"/><stop offset="0.2513" stop-color="#050417"/><stop offset="0.2965" stop-color="#0e092b"/><stop offset="0.3342" stop-color="#1c0c43"/><stop offset="0.3644" stop-color="#2f0a5b"/><stop offset="0.3900" stop-color="#440a68"/><stop offset="0.4096" stop-color="#5a116e"/><stop offset="0.4246" stop-color="#741a6e"/><stop offset="0.4397" stop-color="#952667"/><stop offset="0.4472" stop-color="#ab2f5e"/><stop offset="0.4555" stop-color="#c43c4e"/><stop offset="0.4638" stop-color="#df5337"/><stop offset="0.4721" stop-color="#f37819"/><stop offset="0.4759" stop-color="#f98c0a"/><stop offset="0.4804" stop-color="#fca50a"/><stop offset="0.4842" stop-color="#fbb81d"/><stop offset="0.4872" stop-color="#fca80d"/><stop offset="0.4894" stop-color="#fc9f07"/><stop offset="0.4917" stop-color="#f98c0a"/><stop offset="0.4940" stop-color="#f3761b"/><stop offset="0.4970" stop-color="#de5238"/><stop offset="0.5000" stop-color="#ca404a"/><stop offset="0.5030" stop-color="#e35933"/><stop offset="0.5060" stop-color="#f78212"/><stop offset="0.5083" stop-color="#fb9d07"/><stop offset="0.5106" stop-color="#fca80d"/><stop offset="0.5128" stop-color="#fbb61a"/><stop offset="0.5158" stop-color="#fcaa0f"/><stop offset="0.5196" stop-color="#fb9706"/><stop offset="0.5241" stop-color="#f57d15"/><stop offset="0.5279" stop-color="#ee6a24"/><stop offset="0.5362" stop-color="#d74b3f"/><stop offset="0.5445" stop-color="#bc3754"/><stop offset="0.5528" stop-color="#a22b62"/><stop offset="0.5603" stop-color="#8f2469"/><stop offset="0.5754" stop-color="#6f196e"/><stop offset="0.5904" stop-color="#57106e"/><stop offset="0.6100" stop-color="#420a68"/><stop offset="0.6356" stop-color="#2d0b59"/><stop offset="0.6658" stop-color="#1b0c41"/><stop offset="0.7035" stop-color="#0d0829"/><stop offset="0.7487" stop-color="#050417"/><stop offset="0.8014" stop-color="#02020c"/><stop offset="0.8768" stop-color="#010106"/><stop offset="1.0000" stop-color="#010005"/></linearGradient>
<linearGradient id="gf9" gradientUnits="userSpaceOnUse" x1="0" y1="176.9" x2="0" y2="309.6"><stop offset="0.0000" stop-color="#010005"/><stop offset="0.1232" stop-color="#010106"/><stop offset="0.1986" stop-color="#02020c"/><stop offset="0.2513" stop-color="#050417"/><stop offset="0.2965" stop-color="#0e092b"/><stop offset="0.3342" stop-color="#1c0c43"/><stop offset="0.3644" stop-color="#2f0a5b"/><stop offset="0.3900" stop-color="#450a69"/><stop offset="0.4096" stop-color="#5c126e"/><stop offset="0.4246" stop-color="#751b6e"/><stop offset="0.4397" stop-color="#982766"/><stop offset="0.4472" stop-color="#ae305c"/><stop offset="0.4555" stop-color="#ca404a"/><stop offset="0.4638" stop-color="#e45a31"/><stop offset="0.4721" stop-color="#f78410"/><stop offset="0.4759" stop-color="#fb9b06"/><stop offset="0.4804" stop-color="#fbb81d"/><stop offset="0.4842" stop-color="#f9c72f"/><stop offset="0.4872" stop-color="#fbbc21"/><stop offset="0.4894" stop-color="#fcb216"/><stop offset="0.4917" stop-color="#fca108"/><stop offset="0.4940" stop-color="#f98c0a"/><stop offset="0.4970" stop-color="#ee6a24"/><stop offset="0.5000" stop-color="#e25734"/><stop offset="0.5030" stop-color="#f1711f"/><stop offset="0.5060" stop-color="#fb9906"/><stop offset="0.5083" stop-color="#fcb014"/><stop offset="0.5106" stop-color="#fbbc21"/><stop offset="0.5128" stop-color="#fac62d"/><stop offset="0.5158" stop-color="#fbbc21"/><stop offset="0.5196" stop-color="#fca60c"/><stop offset="0.5241" stop-color="#f8890c"/><stop offset="0.5279" stop-color="#f1731d"/><stop offset="0.5362" stop-color="#db503b"/><stop offset="0.5445" stop-color="#c03a51"/><stop offset="0.5528" stop-color="#a52c60"/><stop offset="0.5603" stop-color="#922568"/><stop offset="0.5754" stop-color="#71196e"/><stop offset="0.5904" stop-color="#57106e"/><stop offset="0.6100" stop-color="#420a68"/><stop offset="0.6356" stop-color="#2d0b59"/><stop offset="0.6658" stop-color="#1b0c41"/><stop offset="0.7035" stop-color="#0d0829"/><stop offset="0.7487" stop-color="#050417"/><stop offset="0.8014" stop-color="#02020c"/><stop offset="0.8768" stop-color="#010106"/><stop offset="1.0000" stop-color="#010005"/></linearGradient>
<linearGradient id="gf10" gradientUnits="userSpaceOnUse" x1="0" y1="176.9" x2="0" y2="309.6"><stop offset="0.0000" stop-color="#010005"/><stop offset="0.1232" stop-color="#010106"/><stop offset="0.1986" stop-color="#02020c"/><stop offset="0.2513" stop-color="#060419"/><stop offset="0.2965" stop-color="#0e092b"/><stop offset="0.3342" stop-color="#1e0c45"/><stop offset="0.3644" stop-color="#2f0a5b"/><stop offset="0.3900" stop-color="#450a69"/><stop offset="0.4096" stop-color="#5c126e"/><stop offset="0.4246" stop-color="#781c6d"/><stop offset="0.4397" stop-color="#9b2964"/><stop offset="0.4472" stop-color="#b3325a"/><stop offset="0.4555" stop-color="#ce4347"/><stop offset="0.4638" stop-color="#e9612b"/><stop offset="0.4721" stop-color="#fa9008"/><stop offset="0.4759" stop-color="#fcaa0f"/><stop offset="0.4804" stop-color="#f9c932"/><stop offset="0.4842" stop-color="#f6d543"/><stop offset="0.4872" stop-color="#f9cb35"/><stop offset="0.4894" stop-color="#fac42a"/><stop offset="0.4917" stop-color="#fcb216"/><stop offset="0.4940" stop-color="#fca108"/><stop offset="0.4970" stop-color="#f68013"/><stop offset="0.5000" stop-color="#f06f20"/><stop offset="0.5030" stop-color="#f8890c"/><stop offset="0.5060" stop-color="#fcac11"/><stop offset="0.5083" stop-color="#fac228"/><stop offset="0.5106" stop-color="#f9cb35"/><stop offset="0.5128" stop-color="#f6d543"/><stop offset="0.5158" stop-color="#f9cb35"/><stop offset="0.5196" stop-color="#fcb418"/><stop offset="0.5241" stop-color="#fa9207"/><stop offset="0.5279" stop-color="#f57b17"/><stop offset="0.5362" stop-color="#df5337"/><stop offset="0.5445" stop-color="#c33b4f"/><stop offset="0.5528" stop-color="#a82e5f"/><stop offset="0.5603" stop-color="#932667"/><stop offset="0.5754" stop-color="#71196e"/><stop offset="0.5904" stop-color="#59106e"/><stop offset="0.6100" stop-color="#420a68"/><stop offset="0.6356" stop-color="#2d0b59"/><stop offset="0.6658" stop-color="#1c0c43"/><stop offset="0.7035" stop-color="#0d0829"/><stop offset="0.7487" stop-color="#050417"/><stop offset="0.8014" stop-color="#02020c"/><stop offset="0.8768" stop-color="#010106"/><stop offset="1.0000" stop-color="#010005"/></linearGradient>
<linearGradient id="gf11" gradientUnits="userSpaceOnUse" x1="0" y1="176.9" x2="0" y2="309.6"><stop offset="0.0000" stop-color="#010005"/><stop offset="0.1232" stop-color="#010106"/><stop offset="0.1986" stop-color="#02020c"/><stop offset="0.2513" stop-color="#060419"/><stop offset="0.2965" stop-color="#0e092b"/><stop offset="0.3342" stop-color="#1e0c45"/><stop offset="0.3644" stop-color="#310a5c"/><stop offset="0.3900" stop-color="#450a69"/><stop offset="0.4096" stop-color="#5d126e"/><stop offset="0.4246" stop-color="#7a1d6d"/><stop offset="0.4397" stop-color="#9f2a63"/><stop offset="0.4472" stop-color="#b73557"/><stop offset="0.4555" stop-color="#d34743"/><stop offset="0.4638" stop-color="#ec6726"/><stop offset="0.4721" stop-color="#fb9b06"/><stop offset="0.4759" stop-color="#fbb81d"/><stop offset="0.4804" stop-color="#f6d746"/><stop offset="0.4842" stop-color="#f4df53"/><stop offset="0.4872" stop-color="#f6d543"/><stop offset="0.4894" stop-color="#f8cd37"/><stop offset="0.4917" stop-color="#fbbe23"/><stop offset="0.4940" stop-color="#fcac11"/><stop offset="0.4970" stop-color="#f98e09"/><stop offset="0.5000" stop-color="#f68013"/><stop offset="0.5030" stop-color="#fb9606"/><stop offset="0.5060" stop-color="#fbb81d"/><stop offset="0.5083" stop-color="#f9cb35"/><stop offset="0.5106" stop-color="#f6d746"/><stop offset="0.5128" stop-color="#f4df53"/><stop offset="0.5158" stop-color="#f6d746"/><stop offset="0.5196" stop-color="#fbbe23"/><stop offset="0.5241" stop-color="#fb9b06"/><stop offset="0.5279" stop-color="#f78212"/><stop offset="0.5362" stop-color="#e25734"/><stop offset="0.5445" stop-color="#c63d4d"/><stop offset="0.5528" stop-color="#ab2f5e"/><stop offset="0.5603" stop-color="#952667"/><stop offset="0.5754" stop-color="#721a6e"/><stop offset="0.5904" stop-color="#59106e"/><stop offset="0.6100" stop-color="#420a68"/><stop offset="0.6356" stop-color="#2d0b59"/><stop offset="0.6658" stop-color="#1c0c43"/><stop offset="0.7035" stop-color="#0e092b"/><stop offset="0.7487" stop-color="#050417"/><stop offset="0.8014" stop-color="#02020c"/><stop offset="0.8768" stop-color="#010106"/><stop offset="1.0000" stop-color="#010005"/></linearGradient>
<linearGradient id="gf12" gradientUnits="userSpaceOnUse" x1="0" y1="176.9" x2="0" y2="309.6"><stop offset="0.0000" stop-color="#010005"/><stop offset="0.1232" stop-color="#010106"/><stop offset="0.1986" stop-color="#02020c"/><stop offset="0.2513" stop-color="#060419"/><stop offset="0.2965" stop-color="#10092d"/><stop offset="0.3342" stop-color="#1e0c45"/><stop offset="0.3644" stop-color="#310a5c"/><stop offset="0.3900" stop-color="#470b6a"/><stop offset="0.4096" stop-color="#5f136e"/><stop offset="0.4246" stop-color="#7c1d6d"/><stop offset="0.4397" stop-color="#a22b62"/><stop offset="0.4472" stop-color="#ba3655"/><stop offset="0.4555" stop-color="#d74b3f"/><stop offset="0.4638" stop-color="#f06f20"/><stop offset="0.4721" stop-color="#fca60c"/><stop offset="0.4759" stop-color="#fac42a"/><stop offset="0.4804" stop-color="#f3e35a"/><stop offset="0.4842" stop-color="#f3e35a"/><stop offset="0.4872" stop-color="#f5d949"/><stop offset="0.4894" stop-color="#f8cf3a"/><stop offset="0.4917" stop-color="#fac026"/><stop offset="0.4940" stop-color="#fcac11"/><stop offset="0.4970" stop-color="#fa9008"/><stop offset="0.5000" stop-color="#f78212"/><stop offset="0.5030" stop-color="#fb9706"/><stop offset="0.5060" stop-color="#fbbc21"/><stop offset="0.5083" stop-color="#f8cf3a"/><stop offset="0.5106" stop-color="#f4dd4f"/><stop offset="0.5128" stop-color="#f3e55d"/><stop offset="0.5158" stop-color="#f4df53"/><stop offset="0.5196" stop-color="#fac62d"/><stop offset="0.5241" stop-color="#fca309"/><stop offset="0.5279" stop-color="#f8870e"/><stop offset="0.5362" stop-color="#e45a31"/><stop offset="0.5445" stop-color="#c83f4b"/><stop offset="0.5528" stop-color="#ad305d"/><stop offset="0.5603" stop-color="#972766"/><stop offset="0.5754" stop-color="#741a6e"/><stop offset="0.5904" stop-color="#59106e"/><stop offset="0.6100" stop-color="#420a68"/><stop offset="0.6356" stop-color="#2d0b59"/><stop offset="0.6658" stop-color="#1c0c43"/><stop offset="0.7035" stop-color="#0e092b"/><stop offset="0.7487" stop-color="#050417"/><stop offset="0.8014" stop-color="#02020c"/><stop offset="0.8768" stop-color="#010106"/><stop offset="1.0000" stop-color="#010005"/></linearGradient>
<linearGradient id="gf13" gradientUnits="userSpaceOnUse" x1="0" y1="176.9" x2="0" y2="309.6"><stop offset="0.0000" stop-color="#010005"/><stop offset="0.1232" stop-color="#010106"/><stop offset="0.1986" stop-color="#02020c"/><stop offset="0.2513" stop-color="#060419"/><stop offset="0.2965" stop-color="#10092d"/><stop offset="0.3342" stop-color="#1e0c45"/><stop offset="0.3644" stop-color="#310a5c"/><stop offset="0.3900" stop-color="#470b6a"/><stop offset="0.4096" stop-color="#61136e"/><stop offset="0.4246" stop-color="#7d1e6d"/><stop offset="0.4397" stop-color="#a52c60"/><stop offset="0.4472" stop-color="#bd3853"/><stop offset="0.4555" stop-color="#da4e3c"/><stop offset="0.4638" stop-color="#f2741c"/><stop offset="0.4721" stop-color="#fcae12"/><stop offset="0.4759" stop-color="#f9cb35"/><stop offset="0.4804" stop-color="#f2e865"/><stop offset="0.4842" stop-color="#f3e35a"/><stop offset="0.4872" stop-color="#f6d746"/><stop offset="0.4894" stop-color="#f9c932"/><stop offset="0.4917" stop-color="#fbb81d"/><stop offset="0.4940" stop-color="#fca309"/><stop offset="0.4970" stop-color="#f78410"/><stop offset="0.5000" stop-color="#f2741c"/><stop offset="0.5030" stop-color="#f98c0a"/><stop offset="0.5060" stop-color="#fbb61a"/><stop offset="0.5083" stop-color="#f8cd37"/><stop offset="0.5106" stop-color="#f5db4c"/><stop offset="0.5128" stop-color="#f3e55d"/><stop offset="0.5158" stop-color="#f3e55d"/><stop offset="0.5196" stop-color="#f9c932"/><stop offset="0.5241" stop-color="#fca60c"/><stop offset="0.5279" stop-color="#f98b0b"/><stop offset="0.5362" stop-color="#e55c30"/><stop offset="0.5445" stop-color="#ca404a"/><stop offset="0.5528" stop-color="#ae305c"/><stop offset="0.5603" stop-color="#972766"/><stop offset="0.5754" stop-color="#741a6e"/><stop offset="0.5904" stop-color="#5a116e"/><stop offset="0.6100" stop-color="#440a68"/><stop offset="0.6356" stop-color="#2d0b59"/><stop offset="0.6658" stop-color="#1c0c43"/><stop offset="0.7035" stop-color="#0e092b"/><stop offset="0.7487" stop-color="#050417"/><stop offset="0.8014" stop-color="#02020c"/><stop offset="0.8768" stop-color="#010106"/><stop offset="1.0000" stop-color="#010005"/></linearGradient>
<linearGradient id="gf14" gradientUnits="userSpaceOnUse" x1="0" y1="176.9" x2="0" y2="309.6"><stop offset="0.0000" stop-color="#010005"/><stop offset="0.1232" stop-color="#010106"/><stop offset="0.1986" stop-color="#02020c"/><stop offset="0.2513" stop-color="#060419"/><stop offset="0.2965" stop-color="#10092d"/><stop offset="0.3342" stop-color="#1f0c48"/><stop offset="0.3644" stop-color="#310a5c"/><stop offset="0.3900" stop-color="#490b6a"/><stop offset="0.4096" stop-color="#61136e"/><stop offset="0.4246" stop-color="#801f6c"/><stop offset="0.4397" stop-color="#a62d60"/><stop offset="0.4472" stop-color="#c03a51"/><stop offset="0.4555" stop-color="#dd513a"/><stop offset="0.4638" stop-color="#f47918"/><stop offset="0.4721" stop-color="#fcb418"/><stop offset="0.4759" stop-color="#f7d13d"/><stop offset="0.4804" stop-color="#f2ea69"/><stop offset="0.4842" stop-color="#f5db4c"/><stop offset="0.4872" stop-color="#f8cf3a"/><stop offset="0.4894" stop-color="#fbbc21"/><stop offset="0.4917" stop-color="#fca80d"/><stop offset="0.4940" stop-color="#f98e09"/><stop offset="0.4970" stop-color="#ef6e21"/><stop offset="0.5000" stop-color="#e75e2e"/><stop offset="0.5030" stop-color="#f37819"/><stop offset="0.5060" stop-color="#fca60c"/><stop offset="0.5083" stop-color="#fac228"/><stop offset="0.5106" stop-color="#f6d543"/><stop offset="0.5128" stop-color="#f4e156"/><stop offset="0.5158" stop-color="#f3e55d"/><stop offset="0.5196" stop-color="#f9cb35"/><stop offset="0.5241" stop-color="#fca80d"/><stop offset="0.5279" stop-color="#f98b0b"/><stop offset="0.5362" stop-color="#e65d2f"/><stop offset="0.5445" stop-color="#ca404a"/><stop offset="0.5528" stop-color="#ae305c"/><stop offset="0.5603" stop-color="#982766"/><stop offset="0.5754" stop-color="#741a6e"/><stop offset="0.5904" stop-color="#5a116e"/><stop offset="0.6100" stop-color="#440a68"/><stop offset="0.6356" stop-color="#2d0b59"/><stop offset="0.6658" stop-color="#1c0c43"/><stop offset="0.7035" stop-color="#0e092b"/><stop offset="0.7487" stop-color="#050417"/><stop offset="0.8014" stop-color="#02020c"/><stop offset="0.8768" stop-color="#010106"/><stop offset="1.0000" stop-color="#010005"/></linearGradient>
<linearGradient id="gf15" gradientUnits="userSpaceOnUse" x1="0" y1="176.9" x2="0" y2="309.6"><stop offset="0.0000" stop-color="#010005"/><stop offset="0.1232" stop-color="#010106"/><stop offset="0.1986" stop-color="#02020c"/><stop offset="0.2513" stop-color="#060419"/><stop offset="0.2965" stop-color="#10092d"/><stop offset="0.3342" stop-color="#1f0c48"/><stop offset="0.3644" stop-color="#320a5e"/><stop offset="0.3900" stop-color="#490b6a"/><stop offset="0.4096" stop-color="#62146e"/><stop offset="0.4246" stop-color="#82206c"/><stop offset="0.4397" stop-color="#a92e5e"/><stop offset="0.4472" stop-color="#c33b4f"/><stop offset="0.4555" stop-color="#df5337"/><stop offset="0.4638" stop-color="#f57d15"/><stop offset="0.4721" stop-color="#fbb81d"/><stop offset="0.4759" stop-color="#f7d340"/><stop offset="0.4804" stop-color="#f4e156"/><stop offset="0.4842" stop-color="#f8cf3a"/><stop offset="0.4872" stop-color="#fac026"/><stop offset="0.4894" stop-color="#fca60c"/><stop offset="0.4917" stop-color="#fa9008"/><stop offset="0.4940" stop-color="#f1731d"/><stop offset="0.4970" stop-color="#e05536"/><stop offset="0.5000" stop-color="#d24644"/><stop offset="0.5030" stop-color="#e65d2f"/><stop offset="0.5060" stop-color="#fa9207"/><stop offset="0.5083" stop-color="#fcb014"/><stop offset="0.5106" stop-color="#f9c932"/><stop offset="0.5128" stop-color="#f5d949"/><stop offset="0.5158" stop-color="#f4e156"/><stop offset="0.5196" stop-color="#f9c932"/><stop offset="0.5241" stop-color="#fca60c"/><stop offset="0.5279" stop-color="#f98b0b"/><stop offset="0.5362" stop-color="#e65d2f"/><stop offset="0.5445" stop-color="#cb4149"/><stop offset="0.5528" stop-color="#ae305c"/><stop offset="0.5603" stop-color="#982766"/><stop offset="0.5754" stop-color="#751b6e"/><stop offset="0.5904" stop-color="#5a116e"/><stop offset="0.6100" stop-color="#440a68"/><stop offset="0.6356" stop-color="#2d0b59"/><stop offset="0.6658" stop-color="#1c0c43"/><stop offset="0.7035" stop-color="#0e092b"/><stop offset="0.7487" stop-color="#050417"/><stop offset="0.8014" stop-color="#02020c"/><stop offset="0.8768" stop-color="#010106"/><stop offset="1.0000" stop-color="#010005"/></linearGradient>
<linearGradient id="gf16" gradientUnits="userSpaceOnUse" x1="0" y1="176.9" x2="0" y2="309.6"><stop offset="0.0000" stop-color="#010005"/><stop offset="0.1232" stop-color="#010106"/><stop offset="0.1986" stop-color="#02020c"/><stop offset="0.2513" stop-color="#060419"/><stop offset="0.2965" stop-color="#10092d"/><stop offset="0.3342" stop-color="#1f0c48"/><stop offset="0.3644" stop-color="#320a5e"/><stop offset="0.3900" stop-color="#4a0c6b"/><stop offset="0.4096" stop-color="#64156e"/><stop offset="0.4246" stop-color="#84206b"/><stop offset="0.4397" stop-color="#ab2f5e"/><stop offset="0.4472" stop-color="#c43c4e"/><stop offset="0.4555" stop-color="#e05536"/><stop offset="0.4638" stop-color="#f67e14"/><stop offset="0.4721" stop-color="#fbba1f"/><stop offset="0.4759" stop-color="#f7d340"/><stop offset="0.4804" stop-color="#f7d340"/><stop offset="0.4842" stop-color="#fac026"/><stop offset="0.4872" stop-color="#fca80d"/><stop offset="0.4894" stop-color="#fa9008"/><stop offset="0.4917" stop-color="#f37819"/><stop offset="0.4940" stop-color="#e35933"/><stop offset="0.4970" stop-color="#c83f4b"/><stop offset="0.5000" stop-color="#b63458"/><stop offset="0.5030" stop-color="#d04545"/><stop offset="0.5060" stop-color="#f57b17"/><stop offset="0.5083" stop-color="#fb9d07"/><stop offset="0.5106" stop-color="#fbbc21"/><stop offset="0.5128" stop-color="#f9cb35"/><stop offset="0.5158" stop-color="#f5db4c"/><stop offset="0.5196" stop-color="#fac62d"/><stop offset="0.5241" stop-color="#fca50a"/><stop offset="0.5279" stop-color="#f8890c"/><stop offset="0.5362" stop-color="#e55c30"/><stop offset="0.5445" stop-color="#ca404a"/><stop offset="0.5528" stop-color="#ae305c"/><stop offset="0.5603" stop-color="#982766"/><stop offset="0.5754" stop-color="#751b6e"/><stop offset="0.5904" stop-color="#5a116e"/><stop offset="0.6100" stop-color="#440a68"/><stop offset="0.6356" stop-color="#2f0a5b"/><stop offset="0.6658" stop-color="#1c0c43"/><stop offset="0.7035" stop-color="#0e092b"/><stop offset="0.7487" stop-color="#050417"/><stop offset="0.8014" stop-color="#02020c"/><stop offset="0.8768" stop-color="#010106"/><stop offset="1.0000" stop-color="#010005"/></linearGradient>
<linearGradient id="gf17" gradientUnits="userSpaceOnUse" x1="0" y1="176.9" x2="0" y2="309.6"><stop offset="0.0000" stop-color="#010005"/><stop offset="0.1232" stop-color="#010106"/><stop offset="0.1986" stop-color="#02020c"/><stop offset="0.2513" stop-color="#060419"/><stop offset="0.2965" stop-color="#110a30"/><stop offset="0.3342" stop-color="#1f0c48"/><stop offset="0.3644" stop-color="#320a5e"/><stop offset="0.3900" stop-color="#4a0c6b"/><stop offset="0.4096" stop-color="#64156e"/><stop offset="0.4246" stop-color="#85216b"/><stop offset="0.4397" stop-color="#ad305d"/><stop offset="0.4472" stop-color="#c63d4d"/><stop offset="0.4555" stop-color="#e15635"/><stop offset="0.4638" stop-color="#f67e14"/><stop offset="0.4721" stop-color="#fbb61a"/><stop offset="0.4759" stop-color="#f8cd37"/><stop offset="0.4804" stop-color="#fac42a"/><stop offset="0.4842" stop-color="#fcae12"/><stop offset="0.4872" stop-color="#fa9207"/><stop offset="0.4894" stop-color="#f37819"/><stop offset="0.4917" stop-color="#e75e2e"/><stop offset="0.4940" stop-color="#ce4347"/><stop offset="0.4970" stop-color="#ad305d"/><stop offset="0.5000" stop-color="#982766"/><stop offset="0.5030" stop-color="#b73557"/><stop offset="0.5060" stop-color="#eb6429"/><stop offset="0.5083" stop-color="#f8890c"/><stop offset="0.5106" stop-color="#fcaa0f"/><stop offset="0.5128" stop-color="#fbbe23"/><stop offset="0.5158" stop-color="#f7d340"/><stop offset="0.5196" stop-color="#fbbe23"/><stop offset="0.5241" stop-color="#fc9f07"/><stop offset="0.5279" stop-color="#f8850f"/><stop offset="0.5362" stop-color="#e45a31"/><stop offset="0.5445" stop-color="#ca404a"/><stop offset="0.5528" stop-color="#ae305c"/><stop offset="0.5603" stop-color="#982766"/><stop offset="0.5754" stop-color="#751b6e"/><stop offset="0.5904" stop-color="#5a116e"/><stop offset="0.6100" stop-color="#440a68"/><stop offset="0.6356" stop-color="#2f0a5b"/><stop offset="0.6658" stop-color="#1c0c43"/><stop offset="0.7035" stop-color="#0e092b"/><stop offset="0.7487" stop-color="#050417"/><stop offset="0.8014" stop-color="#02020c"/><stop offset="0.8768" stop-color="#010106"/><stop offset="1.0000" stop-color="#010005"/></linearGradient>
<linearGradient id="gf18" gradientUnits="userSpaceOnUse" x1="0" y1="176.9" x2="0" y2="309.6"><stop offset="0.0000" stop-color="#010005"/><stop offset="0.1232" stop-color="#010106"/><stop offset="0.1986" stop-color="#02020c"/><stop offset="0.2513" stop-color="#07051b"/><stop offset="0.2965" stop-color="#110a30"/><stop offset="0.3342" stop-color="#210c4a"/><stop offset="0.3644" stop-color="#340a5f"/><stop offset="0.3900" stop-color="#4c0c6b"/><stop offset="0.4096" stop-color="#65156e"/><stop offset="0.4246" stop-color="#85216b"/><stop offset="0.4397" stop-color="#ae305c"/><stop offset="0.4472" stop-color="#c63d4d"/><stop offset="0.4555" stop-color="#e15635"/><stop offset="0.4638" stop-color="#f57d15"/><stop offset="0.4721" stop-color="#fcb216"/><stop offset="0.4759" stop-color="#fac62d"/><stop offset="0.4804" stop-color="#fcb418"/><stop offset="0.4842" stop-color="#fb9d07"/><stop offset="0.4872" stop-color="#f57d15"/><stop offset="0.4894" stop-color="#ea632a"/><stop offset="0.4917" stop-color="#d74b3f"/><stop offset="0.4940" stop-color="#b73557"/><stop offset="0.4970" stop-color="#952667"/><stop offset="0.5000" stop-color="#7f1e6c"/><stop offset="0.5030" stop-color="#9f2a63"/><stop offset="0.5060" stop-color="#de5238"/><stop offset="0.5083" stop-color="#f3761b"/><stop offset="0.5106" stop-color="#fb9b06"/><stop offset="0.5128" stop-color="#fcb014"/><stop offset="0.5158" stop-color="#f9cb35"/><stop offset="0.5196" stop-color="#fbb61a"/><stop offset="0.5241" stop-color="#fb9906"/><stop offset="0.5279" stop-color="#f78212"/><stop offset="0.5362" stop-color="#e35933"/><stop offset="0.5445" stop-color="#c83f4b"/><stop offset="0.5528" stop-color="#ad305d"/><stop offset="0.5603" stop-color="#982766"/><stop offset="0.5754" stop-color="#751b6e"/><stop offset="0.5904" stop-color="#5a116e"/><stop offset="0.6100" stop-color="#440a68"/><stop offset="0.6356" stop-color="#2f0a5b"/><stop offset="0.6658" stop-color="#1c0c43"/><stop offset="0.7035" stop-color="#0e092b"/><stop offset="0.7487" stop-color="#050417"/><stop offset="0.8014" stop-color="#02020c"/><stop offset="0.8768" stop-color="#010106"/><stop offset="1.0000" stop-color="#010005"/></linearGradient>
<linearGradient id="gf19" gradientUnits="userSpaceOnUse" x1="0" y1="176.9" x2="0" y2="309.6"><stop offset="0.0000" stop-color="#010005"/><stop offset="0.1232" stop-color="#010106"/><stop offset="0.1986" stop-color="#02020e"/><stop offset="0.2513" stop-color="#07051b"/><stop offset="0.2965" stop-color="#110a30"/><stop offset="0.3342" stop-color="#210c4a"/><stop offset="0.3644" stop-color="#340a5f"/><stop offset="0.3900" stop-color="#4c0c6b"/><stop offset="0.4096" stop-color="#67166e"/><stop offset="0.4246" stop-color="#87216b"/><stop offset="0.4397" stop-color="#ae305c"/><stop offset="0.4472" stop-color="#c63d4d"/><stop offset="0.4555" stop-color="#e05536"/><stop offset="0.4638" stop-color="#f57b17"/><stop offset="0.4721" stop-color="#fcac11"/><stop offset="0.4759" stop-color="#fac228"/><stop offset="0.4804" stop-color="#fca50a"/><stop offset="0.4842" stop-color="#f98e09"/><stop offset="0.4872" stop-color="#ee6a24"/><stop offset="0.4894" stop-color="#e05536"/><stop offset="0.4917" stop-color="#c73e4c"/><stop offset="0.4940" stop-color="#a52c60"/><stop offset="0.4970" stop-color="#82206c"/><stop offset="0.5000" stop-color="#6d186e"/><stop offset="0.5030" stop-color="#8d2369"/><stop offset="0.5060" stop-color="#d04545"/><stop offset="0.5083" stop-color="#ec6726"/><stop offset="0.5106" stop-color="#f98c0a"/><stop offset="0.5128" stop-color="#fca108"/><stop offset="0.5158" stop-color="#fbbe23"/><stop offset="0.5196" stop-color="#fcae12"/><stop offset="0.5241" stop-color="#fa9407"/><stop offset="0.5279" stop-color="#f57d15"/><stop offset="0.5362" stop-color="#e15635"/><stop offset="0.5445" stop-color="#c73e4c"/><stop offset="0.5528" stop-color="#ad305d"/><stop offset="0.5603" stop-color="#972766"/><stop offset="0.5754" stop-color="#751b6e"/><stop offset="0.5904" stop-color="#5a116e"/><stop offset="0.6100" stop-color="#440a68"/><stop offset="0.6356" stop-color="#2f0a5b"/><stop offset="0.6658" stop-color="#1c0c43"/><stop offset="0.7035" stop-color="#0e092b"/><stop offset="0.7487" stop-color="#050417"/><stop offset="0.8014" stop-color="#02020c"/><stop offset="0.8768" stop-color="#010106"/><stop offset="1.0000" stop-color="#010005"/></linearGradient>
<linearGradient id="gf20" gradientUnits="userSpaceOnUse" x1="0" y1="176.9" x2="0" y2="309.6"><stop offset="0.0000" stop-color="#010005"/><stop offset="0.1232" stop-color="#010106"/><stop offset="0.1986" stop-color="#02020e"/><stop offset="0.2513" stop-color="#07051b"/><stop offset="0.2965" stop-color="#110a30"/><stop offset="0.3342" stop-color="#210c4a"/><stop offset="0.3644" stop-color="#340a5f"/><stop offset="0.3900" stop-color="#4c0c6b"/><stop offset="0.4096" stop-color="#67166e"/><stop offset="0.4246" stop-color="#87216b"/><stop offset="0.4397" stop-color="#ae305c"/><stop offset="0.4472" stop-color="#c63d4d"/><stop offset="0.4555" stop-color="#e05536"/><stop offset="0.4638" stop-color="#f47918"/><stop offset="0.4721" stop-color="#fca60c"/><stop offset="0.4759" stop-color="#fcb418"/><stop offset="0.4804" stop-color="#fb9706"/><stop offset="0.4842" stop-color="#f68013"/><stop offset="0.4872" stop-color="#e75e2e"/><stop offset="0.4894" stop-color="#d74b3f"/><stop offset="0.4917" stop-color="#ba3655"/><stop offset="0.4940" stop-color="#972766"/><stop offset="0.4970" stop-color="#771c6d"/><stop offset="0.5000" stop-color="#62146e"/><stop offset="0.5030" stop-color="#82206c"/><stop offset="0.5060" stop-color="#c73e4c"/><stop offset="0.5083" stop-color="#e55c30"/><stop offset="0.5106" stop-color="#f78212"/><stop offset="0.5128" stop-color="#fb9606"/><stop offset="0.5158" stop-color="#fcb216"/><stop offset="0.5196" stop-color="#fca60c"/><stop offset="0.5241" stop-color="#f98e09"/><stop offset="0.5279" stop-color="#f47918"/><stop offset="0.5362" stop-color="#df5337"/><stop offset="0.5445" stop-color="#c63d4d"/><stop offset="0.5528" stop-color="#ab2f5e"/><stop offset="0.5603" stop-color="#972766"/><stop offset="0.5754" stop-color="#751b6e"/><stop offset="0.5904" stop-color="#5a116e"/><stop offset="0.6100" stop-color="#440a68"/><stop offset="0.6356" stop-color="#2f0a5b"/><stop offset="0.6658" stop-color="#1c0c43"/><stop offset="0.7035" stop-color="#0e092b"/><stop offset="0.7487" stop-color="#050417"/><stop offset="0.8014" stop-color="#02020c"/><stop offset="0.8768" stop-color="#010106"/><stop offset="1.0000" stop-color="#010005"/></linearGradient>
<linearGradient id="gf21" gradientUnits="userSpaceOnUse" x1="0" y1="176.9" x2="0" y2="309.6"><stop offset="0.0000" stop-color="#010005"/><stop offset="0.1232" stop-color="#010106"/><stop offset="0.1986" stop-color="#02020e"/><stop offset="0.2513" stop-color="#07051b"/><stop offset="0.2965" stop-color="#110a30"/><stop offset="0.3342" stop-color="#210c4a"/><stop offset="0.3644" stop-color="#340a5f"/><stop offset="0.3900" stop-color="#4c0c6b"/><stop offset="0.4096" stop-color="#69166e"/><stop offset="0.4246" stop-color="#87216b"/><stop offset="0.4397" stop-color="#ae305c"/><stop offset="0.4472" stop-color="#c63d4d"/><stop offset="0.4555" stop-color="#df5337"/><stop offset="0.4638" stop-color="#f37819"/><stop offset="0.4721" stop-color="#fca108"/><stop offset="0.4759" stop-color="#fca80d"/><stop offset="0.4804" stop-color="#f98c0a"/><stop offset="0.4842" stop-color="#f3761b"/><stop offset="0.4872" stop-color="#e15635"/><stop offset="0.4894" stop-color="#cf4446"/><stop offset="0.4917" stop-color="#b1325a"/><stop offset="0.4940" stop-color="#8f2469"/><stop offset="0.4970" stop-color="#71196e"/><stop offset="0.5000" stop-color="#5c126e"/><stop offset="0.5030" stop-color="#7c1d6d"/><stop offset="0.5060" stop-color="#c03a51"/><stop offset="0.5083" stop-color="#e05536"/><stop offset="0.5106" stop-color="#f47918"/><stop offset="0.5128" stop-color="#f98c0a"/><stop offset="0.5158" stop-color="#fca80d"/><stop offset="0.5196" stop-color="#fc9f07"/><stop offset="0.5241" stop-color="#f8890c"/><stop offset="0.5279" stop-color="#f3761b"/><stop offset="0.5362" stop-color="#de5238"/><stop offset="0.5445" stop-color="#c43c4e"/><stop offset="0.5528" stop-color="#ab2f5e"/><stop offset="0.5603" stop-color="#952667"/><stop offset="0.5754" stop-color="#751b6e"/><stop offset="0.5904" stop-color="#5a116e"/><stop offset="0.6100" stop-color="#440a68"/><stop offset="0.6356" stop-color="#2f0a5b"/><stop offset="0.6658" stop-color="#1c0c43"/><stop offset="0.7035" stop-color="#0e092b"/><stop offset="0.7487" stop-color="#050417"/><stop offset="0.8014" stop-color="#02020c"/><stop offset="0.8768" stop-color="#010106"/><stop offset="1.0000" stop-color="#010005"/></linearGradient>
<linearGradient id="gf22" gradientUnits="userSpaceOnUse" x1="0" y1="176.9" x2="0" y2="309.6"><stop offset="0.0000" stop-color="#010005"/><stop offset="0.1232" stop-color="#010106"/><stop offset="0.1986" stop-color="#02020e"/><stop offset="0.2513" stop-color="#07051b"/><stop offset="0.2965" stop-color="#110a30"/><stop offset="0.3342" stop-color="#210c4a"/><stop offset="0.3644" stop-color="#340a5f"/><stop offset="0.3900" stop-color="#4d0d6c"/><stop offset="0.4096" stop-color="#69166e"/><stop offset="0.4246" stop-color="#87216b"/><stop offset="0.4397" stop-color="#ae305c"/><stop offset="0.4472" stop-color="#c63d4d"/><stop offset="0.4555" stop-color="#df5337"/><stop offset="0.4638" stop-color="#f3761b"/><stop offset="0.4721" stop-color="#fb9d07"/><stop offset="0.4759" stop-color="#fca108"/><stop offset="0.4804" stop-color="#f8870e"/><stop offset="0.4842" stop-color="#f06f20"/><stop offset="0.4872" stop-color="#de5238"/><stop offset="0.4894" stop-color="#cb4149"/><stop offset="0.4917" stop-color="#ad305d"/><stop offset="0.4940" stop-color="#8a226a"/><stop offset="0.4970" stop-color="#6f196e"/><stop offset="0.5000" stop-color="#5a116e"/><stop offset="0.5030" stop-color="#781c6d"/><stop offset="0.5060" stop-color="#bc3754"/><stop offset="0.5083" stop-color="#dd513a"/><stop offset="0.5106" stop-color="#f1731d"/><stop offset="0.5128" stop-color="#f8870e"/><stop offset="0.5158" stop-color="#fca309"/><stop offset="0.5196" stop-color="#fb9b06"/><stop offset="0.5241" stop-color="#f8850f"/><stop offset="0.5279" stop-color="#f1731d"/><stop offset="0.5362" stop-color="#dd513a"/><stop offset="0.5445" stop-color="#c33b4f"/><stop offset="0.5528" stop-color="#a92e5e"/><stop offset="0.5603" stop-color="#952667"/><stop offset="0.5754" stop-color="#741a6e"/><stop offset="0.5904" stop-color="#5a116e"/><stop offset="0.6100" stop-color="#440a68"/><stop offset="0.6356" stop-color="#2f0a5b"/><stop offset="0.6658" stop-color="#1c0c43"/><stop offset="0.7035" stop-color="#0e092b"/><stop offset="0.7487" stop-color="#050417"/><stop offset="0.8014" stop-color="#02020c"/><stop offset="0.8768" stop-color="#010106"/><stop offset="1.0000" stop-color="#010005"/></linearGradient>
<linearGradient id="gf23" gradientUnits="userSpaceOnUse" x1="0" y1="176.9" x2="0" y2="309.6"><stop offset="0.0000" stop-color="#010005"/><stop offset="0.1232" stop-color="#010106"/><stop offset="0.1986" stop-color="#02020e"/><stop offset="0.2513" stop-color="#07051b"/><stop offset="0.2965" stop-color="#110a30"/><stop offset="0.3342" stop-color="#210c4a"/><stop offset="0.3644" stop-color="#340a5f"/><stop offset="0.3900" stop-color="#4d0d6c"/><stop offset="0.4096" stop-color="#69166e"/><stop offset="0.4246" stop-color="#88226a"/><stop offset="0.4397" stop-color="#ae305c"/><stop offset="0.4472" stop-color="#c63d4d"/><stop offset="0.4555" stop-color="#df5337"/><stop offset="0.4638" stop-color="#f2741c"/><stop offset="0.4721" stop-color="#fb9b06"/><stop offset="0.4759" stop-color="#fb9d07"/><stop offset="0.4804" stop-color="#f78410"/><stop offset="0.4842" stop-color="#ef6c23"/><stop offset="0.4872" stop-color="#db503b"/><stop offset="0.4894" stop-color="#c83f4b"/><stop offset="0.4917" stop-color="#ab2f5e"/><stop offset="0.4940" stop-color="#88226a"/><stop offset="0.4970" stop-color="#6d186e"/><stop offset="0.5000" stop-color="#5a116e"/><stop offset="0.5030" stop-color="#781c6d"/><stop offset="0.5060" stop-color="#ba3655"/><stop offset="0.5083" stop-color="#db503b"/><stop offset="0.5106" stop-color="#f1711f"/><stop offset="0.5128" stop-color="#f8850f"/><stop offset="0.5158" stop-color="#fc9f07"/><stop offset="0.5196" stop-color="#fb9906"/><stop offset="0.5241" stop-color="#f78410"/><stop offset="0.5279" stop-color="#f1711f"/><stop offset="0.5362" stop-color="#dd513a"/><stop offset="0.5445" stop-color="#c33b4f"/><stop offset="0.5528" stop-color="#a92e5e"/><stop offset="0.5603" stop-color="#952667"/><stop offset="0.5754" stop-color="#741a6e"/><stop offset="0.5904" stop-color="#5a116e"/><stop offset="0.6100" stop-color="#440a68"/><stop offset="0.6356" stop-color="#2f0a5b"/><stop offset="0.6658" stop-color="#1c0c43"/><stop offset="0.7035" stop-color="#0e092b"/><stop offset="0.7487" stop-color="#050417"/><stop offset="0.8014" stop-color="#02020c"/><stop offset="0.8768" stop-color="#010106"/><stop offset="1.0000" stop-color="#010005"/></linearGradient>
<linearGradient id="cf" x1="0" x2="0" y1="0" y2="1"><stop offset="0" stop-color="#fcffa4"/><stop offset="0.05" stop-color="#f1ef75"/><stop offset="0.1" stop-color="#f6d746"/><stop offset="0.15" stop-color="#fbbe23"/><stop offset="0.2" stop-color="#fca50a"/><stop offset="0.25" stop-color="#f98e09"/><stop offset="0.3" stop-color="#f37819"/><stop offset="0.35" stop-color="#ea632a"/><stop offset="0.4" stop-color="#dd513a"/><stop offset="0.45" stop-color="#cc4248"/><stop offset="0.5" stop-color="#bc3754"/><stop offset="0.55" stop-color="#a82e5f"/><stop offset="0.6" stop-color="#932667"/><stop offset="0.65" stop-color="#7f1e6c"/><stop offset="0.7" stop-color="#6a176e"/><stop offset="0.75" stop-color="#57106e"/><stop offset="0.8" stop-color="#420a68"/><stop offset="0.85" stop-color="#2b0b57"/><stop offset="0.9" stop-color="#160b39"/><stop offset="0.95" stop-color="#07051b"/><stop offset="1" stop-color="#000004"/></linearGradient>
</defs>
<rect width="685" height="342" fill="#fff"/>
<rect x="39.4" y="4.5" width="142.5" height="132.7" fill="url(#ga)"/>
<rect x="183.6" y="4.5" width="4.7" height="132.7" fill="url(#ca)" stroke="#000" stroke-width=".38"/>
<path d="M188.3 70.85h-3" stroke="#222" stroke-width=".6"/>
<rect x="39.4" y="4.5" width="142.5" height="132.7" fill="none" stroke="#000" stroke-width=".52"/>
<path d="M39.4 137.2v-3.4M75.03 137.2v-3.4M110.65 137.2v-3.4M146.28 137.2v-3.4M181.9 137.2v-3.4M39.4 4.5h3.4M39.4 37.67h3.4M39.4 70.85h3.4M39.4 104.02h3.4M39.4 137.2h3.4" stroke="#333" stroke-width=".7" fill="none"/>
<rect x="262.6" y="4.5" width="142" height="132.7" fill="url(#gb)"/>
<rect x="406.7" y="4.5" width="4.7" height="132.7" fill="url(#cb)" stroke="#000" stroke-width=".38"/>
<path d="M411.4 70.85h-3" stroke="#222" stroke-width=".6"/>
<rect x="262.6" y="4.5" width="142" height="132.7" fill="none" stroke="#000" stroke-width=".52"/>
<path d="M262.6 137.2v-3.4M298.1 137.2v-3.4M333.6 137.2v-3.4M369.1 137.2v-3.4M404.6 137.2v-3.4M262.6 4.5h3.4M262.6 37.67h3.4M262.6 70.85h3.4M262.6 104.02h3.4M262.6 137.2h3.4" stroke="#333" stroke-width=".7" fill="none"/>
<g clip-path="url(#kc)"><g filter="url(#bc)">
<rect x="477.5" y="2.5" width="11.57" height="136.7" fill="url(#gc0)"/>
<rect x="488.47" y="2.5" width="3.57" height="136.7" fill="url(#gc1)"/>
<rect x="491.44" y="2.5" width="3.57" height="136.7" fill="url(#gc2)"/>
<rect x="494.41" y="2.5" width="3.57" height="136.7" fill="url(#gc3)"/>
<rect x="497.38" y="2.5" width="3.57" height="136.7" fill="url(#gc4)"/>
<rect x="500.34" y="2.5" width="3.57" height="136.7" fill="url(#gc5)"/>
<rect x="503.31" y="2.5" width="3.57" height="136.7" fill="url(#gc6)"/>
<rect x="506.28" y="2.5" width="3.57" height="136.7" fill="url(#gc7)"/>
<rect x="509.25" y="2.5" width="3.57" height="136.7" fill="url(#gc8)"/>
<rect x="512.22" y="2.5" width="3.57" height="136.7" fill="url(#gc9)"/>
<rect x="515.19" y="2.5" width="3.57" height="136.7" fill="url(#gc10)"/>
<rect x="518.16" y="2.5" width="3.57" height="136.7" fill="url(#gc11)"/>
<rect x="521.12" y="2.5" width="3.57" height="136.7" fill="url(#gc12)"/>
<rect x="524.09" y="2.5" width="3.57" height="136.7" fill="url(#gc13)"/>
<rect x="527.06" y="2.5" width="3.57" height="136.7" fill="url(#gc14)"/>
<rect x="530.03" y="2.5" width="3.57" height="136.7" fill="url(#gc15)"/>
<rect x="533" y="2.5" width="3.57" height="136.7" fill="url(#gc16)"/>
<rect x="535.97" y="2.5" width="3.57" height="136.7" fill="url(#gc17)"/>
<rect x="538.94" y="2.5" width="3.57" height="136.7" fill="url(#gc18)"/>
<rect x="541.91" y="2.5" width="3.57" height="136.7" fill="url(#gc19)"/>
<rect x="544.88" y="2.5" width="3.57" height="136.7" fill="url(#gc20)"/>
<rect x="547.84" y="2.5" width="3.57" height="136.7" fill="url(#gc21)"/>
<rect x="550.81" y="2.5" width="3.57" height="136.7" fill="url(#gc22)"/>
<rect x="553.78" y="2.5" width="3.57" height="136.7" fill="url(#gc23)"/>
<rect x="556.75" y="2.5" width="3.57" height="136.7" fill="url(#gc23)"/>
<rect x="559.72" y="2.5" width="3.57" height="136.7" fill="url(#gc22)"/>
<rect x="562.69" y="2.5" width="3.57" height="136.7" fill="url(#gc21)"/>
<rect x="565.66" y="2.5" width="3.57" height="136.7" fill="url(#gc20)"/>
<rect x="568.62" y="2.5" width="3.57" height="136.7" fill="url(#gc19)"/>
<rect x="571.59" y="2.5" width="3.57" height="136.7" fill="url(#gc18)"/>
<rect x="574.56" y="2.5" width="3.57" height="136.7" fill="url(#gc17)"/>
<rect x="577.53" y="2.5" width="3.57" height="136.7" fill="url(#gc16)"/>
<rect x="580.5" y="2.5" width="3.57" height="136.7" fill="url(#gc15)"/>
<rect x="583.47" y="2.5" width="3.57" height="136.7" fill="url(#gc14)"/>
<rect x="586.44" y="2.5" width="3.57" height="136.7" fill="url(#gc13)"/>
<rect x="589.41" y="2.5" width="3.57" height="136.7" fill="url(#gc12)"/>
<rect x="592.38" y="2.5" width="3.57" height="136.7" fill="url(#gc11)"/>
<rect x="595.34" y="2.5" width="3.57" height="136.7" fill="url(#gc10)"/>
<rect x="598.31" y="2.5" width="3.57" height="136.7" fill="url(#gc9)"/>
<rect x="601.28" y="2.5" width="3.57" height="136.7" fill="url(#gc8)"/>
<rect x="604.25" y="2.5" width="3.57" height="136.7" fill="url(#gc7)"/>
<rect x="607.22" y="2.5" width="3.57" height="136.7" fill="url(#gc6)"/>
<rect x="610.19" y="2.5" width="3.57" height="136.7" fill="url(#gc5)"/>
<rect x="613.16" y="2.5" width="3.57" height="136.7" fill="url(#gc4)"/>
<rect x="616.12" y="2.5" width="3.57" height="136.7" fill="url(#gc3)"/>
<rect x="619.09" y="2.5" width="3.57" height="136.7" fill="url(#gc2)"/>
<rect x="622.06" y="2.5" width="3.57" height="136.7" fill="url(#gc1)"/>
<rect x="625.03" y="2.5" width="11.57" height="136.7" fill="url(#gc0)"/>
</g></g>
<rect x="630.1" y="4.5" width="4.7" height="132.7" fill="url(#cc)" stroke="#000" stroke-width=".38"/>
<path d="M634.8 70.85h-3" stroke="#222" stroke-width=".6"/>
<rect x="485.5" y="4.5" width="142.5" height="132.7" fill="none" stroke="#000" stroke-width=".52"/>
<path d="M485.5 137.2v-3.4M521.12 137.2v-3.4M556.75 137.2v-3.4M592.38 137.2v-3.4M628 137.2v-3.4M485.5 4.5h3.4M485.5 37.67h3.4M485.5 70.85h3.4M485.5 104.02h3.4M485.5 137.2h3.4" stroke="#c8c8c8" stroke-width=".7" fill="none"/>
<rect x="39.4" y="176.5" width="142.5" height="132.7" fill="#f3f5f6"/>
<rect x="71.4" y="242.65" width="78.5" height="1.2" fill="url(#dl)"/>
<rect x="75.4" y="241.75" width="70.5" height="3" fill="url(#dl)" opacity=".12"/>
<path d="M39.4 240.4 L51.4 240.9 L61.4 241.5 L68.7 242.4 L70.6 243.4 L72.4 244.2 L77.4 244.7 L82.4 245.1 L84.7 245.5 L82.4 246.3 L75.4 246.6 L64.4 246.6 L53.4 246.5 L39.4 246.2 Z" fill="#fbe6da" opacity=".3"/>
<path d="M181.9 240.4 L169.9 240.9 L159.9 241.5 L152.6 242.4 L150.7 243.4 L148.9 244.2 L143.9 244.7 L138.9 245.1 L136.6 245.5 L138.9 246.3 L145.9 246.6 L156.9 246.6 L167.9 246.5 L181.9 246.2 Z" fill="#fbe6da" opacity=".3"/>
<rect x="39.4" y="242.55" width="33" height="1.7" fill="url(#dwl)"/>
<rect x="148.9" y="242.55" width="33" height="1.7" fill="url(#dwr)"/>
<path d="M39.4 240.4 L51.4 240.9 L61.4 241.5 L68.7 242.4 L70.6 243.4 L72.4 244.2 L77.4 244.7 L82.4 245.1 L84.7 245.5" fill="none" stroke="#5b2b85" stroke-width=".78" stroke-linejoin="round"/>
<path d="M84.7 245.5 L82.4 246.3 L75.4 246.6 L64.4 246.6 L53.4 246.5 M45.4 246.3 L39.4 246.2" fill="none" stroke="#5b2b85" stroke-width=".78" stroke-linejoin="round"/>
<path d="M136.6 245.5 L138.9 245.1 L143.9 244.7 L148.9 244.2 L150.7 243.4 L152.6 242.4 L159.9 241.5 L168.4 241 M175.3 240.6 L181.9 240.4" fill="none" stroke="#5b2b85" stroke-width=".78" stroke-linejoin="round"/>
<path d="M136.6 245.5 L138.9 246.3 L145.9 246.6 L156.9 246.6 L167.9 246.5 L181.9 246.2" fill="none" stroke="#5b2b85" stroke-width=".78" stroke-linejoin="round"/>
<rect x="183.6" y="176.5" width="4.7" height="132.7" fill="url(#cd)" stroke="#000" stroke-width=".38"/>
<path d="M188.3 242.85h-3" stroke="#222" stroke-width=".6"/>
<rect x="39.4" y="176.5" width="142.5" height="132.7" fill="none" stroke="#000" stroke-width=".52"/>
<path d="M39.4 309.2v-3.4M75.03 309.2v-3.4M110.65 309.2v-3.4M146.28 309.2v-3.4M181.9 309.2v-3.4M39.4 176.5h3.4M39.4 209.68h3.4M39.4 242.85h3.4M39.4 276.02h3.4M39.4 309.2h3.4" stroke="#333" stroke-width=".7" fill="none"/>
<g clip-path="url(#ke)"><g filter="url(#be)">
<rect x="254.6" y="174.5" width="11.56" height="136.7" fill="url(#ge0)"/>
<rect x="265.56" y="174.5" width="3.56" height="136.7" fill="url(#ge1)"/>
<rect x="268.52" y="174.5" width="3.56" height="136.7" fill="url(#ge2)"/>
<rect x="271.48" y="174.5" width="3.56" height="136.7" fill="url(#ge3)"/>
<rect x="274.43" y="174.5" width="3.56" height="136.7" fill="url(#ge4)"/>
<rect x="277.39" y="174.5" width="3.56" height="136.7" fill="url(#ge5)"/>
<rect x="280.35" y="174.5" width="3.56" height="136.7" fill="url(#ge6)"/>
<rect x="283.31" y="174.5" width="3.56" height="136.7" fill="url(#ge7)"/>
<rect x="286.27" y="174.5" width="3.56" height="136.7" fill="url(#ge8)"/>
<rect x="289.23" y="174.5" width="3.56" height="136.7" fill="url(#ge9)"/>
<rect x="292.18" y="174.5" width="3.56" height="136.7" fill="url(#ge10)"/>
<rect x="295.14" y="174.5" width="3.56" height="136.7" fill="url(#ge11)"/>
<rect x="298.1" y="174.5" width="3.56" height="136.7" fill="url(#ge12)"/>
<rect x="301.06" y="174.5" width="3.56" height="136.7" fill="url(#ge13)"/>
<rect x="304.02" y="174.5" width="3.56" height="136.7" fill="url(#ge14)"/>
<rect x="306.98" y="174.5" width="3.56" height="136.7" fill="url(#ge15)"/>
<rect x="309.93" y="174.5" width="3.56" height="136.7" fill="url(#ge16)"/>
<rect x="312.89" y="174.5" width="3.56" height="136.7" fill="url(#ge17)"/>
<rect x="315.85" y="174.5" width="3.56" height="136.7" fill="url(#ge18)"/>
<rect x="318.81" y="174.5" width="3.56" height="136.7" fill="url(#ge19)"/>
<rect x="321.77" y="174.5" width="3.56" height="136.7" fill="url(#ge20)"/>
<rect x="324.73" y="174.5" width="3.56" height="136.7" fill="url(#ge21)"/>
<rect x="327.68" y="174.5" width="3.56" height="136.7" fill="url(#ge22)"/>
<rect x="330.64" y="174.5" width="3.56" height="136.7" fill="url(#ge23)"/>
<rect x="333.6" y="174.5" width="3.56" height="136.7" fill="url(#ge23)"/>
<rect x="336.56" y="174.5" width="3.56" height="136.7" fill="url(#ge22)"/>
<rect x="339.52" y="174.5" width="3.56" height="136.7" fill="url(#ge21)"/>
<rect x="342.48" y="174.5" width="3.56" height="136.7" fill="url(#ge20)"/>
<rect x="345.43" y="174.5" width="3.56" height="136.7" fill="url(#ge19)"/>
<rect x="348.39" y="174.5" width="3.56" height="136.7" fill="url(#ge18)"/>
<rect x="351.35" y="174.5" width="3.56" height="136.7" fill="url(#ge17)"/>
<rect x="354.31" y="174.5" width="3.56" height="136.7" fill="url(#ge16)"/>
<rect x="357.27" y="174.5" width="3.56" height="136.7" fill="url(#ge15)"/>
<rect x="360.23" y="174.5" width="3.56" height="136.7" fill="url(#ge14)"/>
<rect x="363.18" y="174.5" width="3.56" height="136.7" fill="url(#ge13)"/>
<rect x="366.14" y="174.5" width="3.56" height="136.7" fill="url(#ge12)"/>
<rect x="369.1" y="174.5" width="3.56" height="136.7" fill="url(#ge11)"/>
<rect x="372.06" y="174.5" width="3.56" height="136.7" fill="url(#ge10)"/>
<rect x="375.02" y="174.5" width="3.56" height="136.7" fill="url(#ge9)"/>
<rect x="377.98" y="174.5" width="3.56" height="136.7" fill="url(#ge8)"/>
<rect x="380.93" y="174.5" width="3.56" height="136.7" fill="url(#ge7)"/>
<rect x="383.89" y="174.5" width="3.56" height="136.7" fill="url(#ge6)"/>
<rect x="386.85" y="174.5" width="3.56" height="136.7" fill="url(#ge5)"/>
<rect x="389.81" y="174.5" width="3.56" height="136.7" fill="url(#ge4)"/>
<rect x="392.77" y="174.5" width="3.56" height="136.7" fill="url(#ge3)"/>
<rect x="395.73" y="174.5" width="3.56" height="136.7" fill="url(#ge2)"/>
<rect x="398.68" y="174.5" width="3.56" height="136.7" fill="url(#ge1)"/>
<rect x="401.64" y="174.5" width="11.56" height="136.7" fill="url(#ge0)"/>
</g></g>
<rect x="406.7" y="176.5" width="4.7" height="132.7" fill="url(#ce)" stroke="#000" stroke-width=".38"/>
<path d="M411.4 242.85h-3" stroke="#222" stroke-width=".6"/>
<rect x="262.6" y="176.5" width="142" height="132.7" fill="none" stroke="#000" stroke-width=".52"/>
<path d="M262.6 309.2v-3.4M298.1 309.2v-3.4M333.6 309.2v-3.4M369.1 309.2v-3.4M404.6 309.2v-3.4M262.6 176.5h3.4M262.6 209.68h3.4M262.6 242.85h3.4M262.6 276.02h3.4M262.6 309.2h3.4" stroke="#333" stroke-width=".7" fill="none"/>
<g clip-path="url(#kf)"><g filter="url(#bf)">
<rect x="477.5" y="174.5" width="11.57" height="136.7" fill="url(#gf0)"/>
<rect x="488.47" y="174.5" width="3.57" height="136.7" fill="url(#gf1)"/>
<rect x="491.44" y="174.5" width="3.57" height="136.7" fill="url(#gf2)"/>
<rect x="494.41" y="174.5" width="3.57" height="136.7" fill="url(#gf3)"/>
<rect x="497.38" y="174.5" width="3.57" height="136.7" fill="url(#gf4)"/>
<rect x="500.34" y="174.5" width="3.57" height="136.7" fill="url(#gf5)"/>
<rect x="503.31" y="174.5" width="3.57" height="136.7" fill="url(#gf6)"/>
<rect x="506.28" y="174.5" width="3.57" height="136.7" fill="url(#gf7)"/>
<rect x="509.25" y="174.5" width="3.57" height="136.7" fill="url(#gf8)"/>
<rect x="512.22" y="174.5" width="3.57" height="136.7" fill="url(#gf9)"/>
<rect x="515.19" y="174.5" width="3.57" height="136.7" fill="url(#gf10)"/>
<rect x="518.16" y="174.5" width="3.57" height="136.7" fill="url(#gf11)"/>
<rect x="521.12" y="174.5" width="3.57" height="136.7" fill="url(#gf12)"/>
<rect x="524.09" y="174.5" width="3.57" height="136.7" fill="url(#gf13)"/>
<rect x="527.06" y="174.5" width="3.57" height="136.7" fill="url(#gf14)"/>
<rect x="530.03" y="174.5" width="3.57" height="136.7" fill="url(#gf15)"/>
<rect x="533" y="174.5" width="3.57" height="136.7" fill="url(#gf16)"/>
<rect x="535.97" y="174.5" width="3.57" height="136.7" fill="url(#gf17)"/>
<rect x="538.94" y="174.5" width="3.57" height="136.7" fill="url(#gf18)"/>
<rect x="541.91" y="174.5" width="3.57" height="136.7" fill="url(#gf19)"/>
<rect x="544.88" y="174.5" width="3.57" height="136.7" fill="url(#gf20)"/>
<rect x="547.84" y="174.5" width="3.57" height="136.7" fill="url(#gf21)"/>
<rect x="550.81" y="174.5" width="3.57" height="136.7" fill="url(#gf22)"/>
<rect x="553.78" y="174.5" width="3.57" height="136.7" fill="url(#gf23)"/>
<rect x="556.75" y="174.5" width="3.57" height="136.7" fill="url(#gf23)"/>
<rect x="559.72" y="174.5" width="3.57" height="136.7" fill="url(#gf22)"/>
<rect x="562.69" y="174.5" width="3.57" height="136.7" fill="url(#gf21)"/>
<rect x="565.66" y="174.5" width="3.57" height="136.7" fill="url(#gf20)"/>
<rect x="568.62" y="174.5" width="3.57" height="136.7" fill="url(#gf19)"/>
<rect x="571.59" y="174.5" width="3.57" height="136.7" fill="url(#gf18)"/>
<rect x="574.56" y="174.5" width="3.57" height="136.7" fill="url(#gf17)"/>
<rect x="577.53" y="174.5" width="3.57" height="136.7" fill="url(#gf16)"/>
<rect x="580.5" y="174.5" width="3.57" height="136.7" fill="url(#gf15)"/>
<rect x="583.47" y="174.5" width="3.57" height="136.7" fill="url(#gf14)"/>
<rect x="586.44" y="174.5" width="3.57" height="136.7" fill="url(#gf13)"/>
<rect x="589.41" y="174.5" width="3.57" height="136.7" fill="url(#gf12)"/>
<rect x="592.38" y="174.5" width="3.57" height="136.7" fill="url(#gf11)"/>
<rect x="595.34" y="174.5" width="3.57" height="136.7" fill="url(#gf10)"/>
<rect x="598.31" y="174.5" width="3.57" height="136.7" fill="url(#gf9)"/>
<rect x="601.28" y="174.5" width="3.57" height="136.7" fill="url(#gf8)"/>
<rect x="604.25" y="174.5" width="3.57" height="136.7" fill="url(#gf7)"/>
<rect x="607.22" y="174.5" width="3.57" height="136.7" fill="url(#gf6)"/>
<rect x="610.19" y="174.5" width="3.57" height="136.7" fill="url(#gf5)"/>
<rect x="613.16" y="174.5" width="3.57" height="136.7" fill="url(#gf4)"/>
<rect x="616.12" y="174.5" width="3.57" height="136.7" fill="url(#gf3)"/>
<rect x="619.09" y="174.5" width="3.57" height="136.7" fill="url(#gf2)"/>
<rect x="622.06" y="174.5" width="3.57" height="136.7" fill="url(#gf1)"/>
<rect x="625.03" y="174.5" width="11.57" height="136.7" fill="url(#gf0)"/>
</g></g>
<rect x="630.1" y="176.5" width="4.7" height="132.7" fill="url(#cf)" stroke="#000" stroke-width=".38"/>
<path d="M634.8 242.85h-3" stroke="#222" stroke-width=".6"/>
<rect x="485.5" y="176.5" width="142.5" height="132.7" fill="none" stroke="#000" stroke-width=".52"/>
<path d="M485.5 309.2v-3.4M521.12 309.2v-3.4M556.75 309.2v-3.4M592.38 309.2v-3.4M628 309.2v-3.4M485.5 176.5h3.4M485.5 209.68h3.4M485.5 242.85h3.4M485.5 276.02h3.4M485.5 309.2h3.4" stroke="#c8c8c8" stroke-width=".7" fill="none"/>
<g opacity=".99">
<text transform="translate(191.2 9.7) scale(1 1.07)" font-size="13.4" textLength="30" lengthAdjust="spacingAndGlyphs">10.28</text>
<text transform="translate(191.2 76.05) scale(1 1.07)" font-size="13.4" textLength="23" lengthAdjust="spacingAndGlyphs">5.14</text>
<text transform="translate(191.2 142.4) scale(1 1.07)" font-size="13.4" textLength="23.3" lengthAdjust="spacingAndGlyphs">0.00</text>
<text transform="translate(234.7 121.25) rotate(-90) scale(1 1.07)" font-size="13.4" textLength="49.6" lengthAdjust="spacingAndGlyphs">(∂<tspan font-style="italic">f</tspan><tspan font-size="9.4" dy="2.6">L</tspan><tspan dy="-2.6">/∂</tspan><tspan font-style="italic">V</tspan>)</text>
<text transform="translate(234.7 71.35) rotate(-90) scale(1 1.07)" font-size="13.4" textLength="18.2" lengthAdjust="spacingAndGlyphs">/<tspan dx="1" font-style="italic">f</tspan><tspan font-size="9.4" dy="2.6">L</tspan></text>
<text transform="translate(234.7 48.95) rotate(-90) scale(1 1.07)" font-size="13.4" textLength="28.2" lengthAdjust="spacingAndGlyphs">(V<tspan font-size="9.4" dy="-4.8">−1</tspan><tspan dy="4.8">)</tspan></text>
<text transform="translate(39.2 150.6) scale(1 1.07)" font-size="13.4" text-anchor="middle"><tspan font-size="17.6" dy="2.5">−</tspan><tspan dx=".5" dy="-2.5">90</tspan></text>
<text transform="translate(74.83 150.6) scale(1 1.07)" font-size="13.4" text-anchor="middle"><tspan font-size="17.6" dy="2.5">−</tspan><tspan dx=".5" dy="-2.5">45</tspan></text>
<text transform="translate(110.05 150.6) scale(1 1.07)" font-size="13.4" text-anchor="middle">0</text>
<text transform="translate(145.68 150.6) scale(1 1.07)" font-size="13.4" text-anchor="middle">45</text>
<text transform="translate(181.3 150.6) scale(1 1.07)" font-size="13.4" text-anchor="middle">90</text>
<text transform="translate(110 166) scale(1 1.07)" font-size="13.4" text-anchor="middle" textLength="42" lengthAdjust="spacingAndGlyphs"><tspan font-style="italic" font-size="15.4">φ</tspan> (deg)</text>
<text transform="translate(36.2 9.6) scale(1 1.07)" font-size="13.4" text-anchor="end">180</text>
<text transform="translate(36.2 42.77) scale(1 1.07)" font-size="13.4" text-anchor="end">135</text>
<text transform="translate(36.2 75.95) scale(1 1.07)" font-size="13.4" text-anchor="end">90</text>
<text transform="translate(36.2 109.12) scale(1 1.07)" font-size="13.4" text-anchor="end">45</text>
<text transform="translate(36.2 142.3) scale(1 1.07)" font-size="13.4" text-anchor="end">0</text>
<text transform="translate(11.6 71.25) rotate(-90) scale(1 1.07)" font-size="13.4" text-anchor="middle" textLength="39" lengthAdjust="spacingAndGlyphs"><tspan font-style="italic" font-size="15.6">θ</tspan> (deg)</text>
<text transform="translate(43 22.4) scale(1 1.07)" font-size="14.4" textLength="18.8" lengthAdjust="spacingAndGlyphs"><tspan font-size="15.2">(</tspan><tspan font-weight="bold">a</tspan><tspan font-size="15.2">)</tspan></text>
<text transform="translate(108.1 24.8) scale(1 1.07)" font-size="13.8" text-anchor="middle">C</text>
<text transform="translate(414.3 9.7) scale(1 1.07)" font-size="13.4" textLength="22.6" lengthAdjust="spacingAndGlyphs">1.42</text>
<text transform="translate(414.3 76.05) scale(1 1.07)" font-size="13.4" textLength="22.6" lengthAdjust="spacingAndGlyphs">0.71</text>
<text transform="translate(414.3 142.4) scale(1 1.07)" font-size="13.4" textLength="23.3" lengthAdjust="spacingAndGlyphs">0.00</text>
<text transform="translate(451.8 113.15) rotate(-90) scale(1 1.07)" font-size="13.4" textLength="12.6" lengthAdjust="spacingAndGlyphs"><tspan font-style="italic">f</tspan><tspan font-size="9.4" dy="2.6">R</tspan></text>
<text transform="translate(451.8 94.85) rotate(-90) scale(1 1.07)" font-size="13.4" textLength="66.2" lengthAdjust="spacingAndGlyphs">(MHz/mV)</text>
<text transform="translate(262.4 150.6) scale(1 1.07)" font-size="13.4" text-anchor="middle"><tspan font-size="17.6" dy="2.5">−</tspan><tspan dx=".5" dy="-2.5">90</tspan></text>
<text transform="translate(297.9 150.6) scale(1 1.07)" font-size="13.4" text-anchor="middle"><tspan font-size="17.6" dy="2.5">−</tspan><tspan dx=".5" dy="-2.5">45</tspan></text>
<text transform="translate(333 150.6) scale(1 1.07)" font-size="13.4" text-anchor="middle">0</text>
<text transform="translate(368.5 150.6) scale(1 1.07)" font-size="13.4" text-anchor="middle">45</text>
<text transform="translate(404 150.6) scale(1 1.07)" font-size="13.4" text-anchor="middle">90</text>
<text transform="translate(333.2 166) scale(1 1.07)" font-size="13.4" text-anchor="middle" textLength="42" lengthAdjust="spacingAndGlyphs"><tspan font-style="italic" font-size="15.4">φ</tspan> (deg)</text>
<text transform="translate(266.2 22.4) scale(1 1.07)" font-size="14.4" textLength="20.2" lengthAdjust="spacingAndGlyphs"><tspan font-size="15.2">(</tspan><tspan font-weight="bold">b</tspan><tspan font-size="15.2">)</tspan></text>
<text transform="translate(331.3 24.8) scale(1 1.07)" font-size="13.8" text-anchor="middle">C</text>
<text transform="translate(637.7 9.7) scale(1 1.07)" font-size="13.4" textLength="22.8" lengthAdjust="spacingAndGlyphs">26.8</text>
<text transform="translate(637.7 76.05) scale(1 1.07)" font-size="13.4" textLength="22.8" lengthAdjust="spacingAndGlyphs">13.4</text>
<text transform="translate(637.7 142.4) scale(1 1.07)" font-size="13.4" textLength="17.2" lengthAdjust="spacingAndGlyphs">0.0</text>
<text transform="translate(675.1 78.45) rotate(-90) scale(1 1.07)" font-size="13.4"><tspan font-style="italic" font-size="13.8">Q</tspan><tspan font-size="11.5" dy="-1.4">*</tspan><tspan font-size="9.4" dx="-5.2" dy="4.6">2</tspan></text>
<text transform="translate(485.3 150.6) scale(1 1.07)" font-size="13.4" text-anchor="middle"><tspan font-size="17.6" dy="2.5">−</tspan><tspan dx=".5" dy="-2.5">90</tspan></text>
<text transform="translate(520.92 150.6) scale(1 1.07)" font-size="13.4" text-anchor="middle"><tspan font-size="17.6" dy="2.5">−</tspan><tspan dx=".5" dy="-2.5">45</tspan></text>
<text transform="translate(556.15 150.6) scale(1 1.07)" font-size="13.4" text-anchor="middle">0</text>
<text transform="translate(591.77 150.6) scale(1 1.07)" font-size="13.4" text-anchor="middle">45</text>
<text transform="translate(627.4 150.6) scale(1 1.07)" font-size="13.4" text-anchor="middle">90</text>
<text transform="translate(556.1 166) scale(1 1.07)" font-size="13.4" text-anchor="middle" textLength="42" lengthAdjust="spacingAndGlyphs"><tspan font-style="italic" font-size="15.4">φ</tspan> (deg)</text>
<text transform="translate(489.1 22.4) scale(1 1.07)" font-size="14.4" textLength="18.8" lengthAdjust="spacingAndGlyphs" fill="#fff"><tspan font-size="15.2">(</tspan><tspan font-weight="bold">c</tspan><tspan font-size="15.2">)</tspan></text>
<text transform="translate(554.2 24.8) scale(1 1.07)" font-size="13.8" text-anchor="middle" fill="#fff">C</text>
<text transform="translate(49.7 250.1) scale(1 1.07)" font-size="13.4" text-anchor="middle" fill="#5b2b85">0</text>
<text transform="translate(171.5 244.5) scale(1 1.07)" font-size="13.4" text-anchor="middle" fill="#5b2b85">0</text>
<text transform="translate(191.2 181.7) scale(1 1.07)" font-size="13.4" textLength="30.3" lengthAdjust="spacingAndGlyphs">15.78</text>
<text transform="translate(191.2 248.05) scale(1 1.07)" font-size="13.4" textLength="23.3" lengthAdjust="spacingAndGlyphs">0.00</text>
<text transform="translate(191.2 314.4) scale(1 1.07)" font-size="13.4"><tspan font-size="17.6" dy="2.5">−</tspan><tspan dx=".7" dy="-2.5">15.78</tspan></text>
<text transform="translate(240.4 294.06) rotate(-90) scale(1 1.07)" font-size="13.4" textLength="50.59" lengthAdjust="spacingAndGlyphs">(∂<tspan font-style="italic">f</tspan><tspan font-size="9.4" dy="2.6">L</tspan><tspan dy="-2.6">/∂</tspan><tspan font-style="italic">V</tspan>)</text>
<text transform="translate(240.4 243.16) rotate(-90) scale(1 1.07)" font-size="13.4" textLength="18.56" lengthAdjust="spacingAndGlyphs">/<tspan dx="1" font-style="italic">f</tspan><tspan font-size="9.4" dy="2.6">L</tspan></text>
<text transform="translate(240.4 220.31) rotate(-90) scale(1 1.07)" font-size="13.4" textLength="28.76" lengthAdjust="spacingAndGlyphs">(V<tspan font-size="9.4" dy="-4.8">−1</tspan><tspan dy="4.8">)</tspan></text>
<text transform="translate(39.2 322.6) scale(1 1.07)" font-size="13.4" text-anchor="middle"><tspan font-size="17.6" dy="2.5">−</tspan><tspan dx=".5" dy="-2.5">90</tspan></text>
<text transform="translate(74.83 322.6) scale(1 1.07)" font-size="13.4" text-anchor="middle"><tspan font-size="17.6" dy="2.5">−</tspan><tspan dx=".5" dy="-2.5">45</tspan></text>
<text transform="translate(110.05 322.6) scale(1 1.07)" font-size="13.4" text-anchor="middle">0</text>
<text transform="translate(145.68 322.6) scale(1 1.07)" font-size="13.4" text-anchor="middle">45</text>
<text transform="translate(181.3 322.6) scale(1 1.07)" font-size="13.4" text-anchor="middle">90</text>
<text transform="translate(110 338) scale(1 1.07)" font-size="13.4" text-anchor="middle" textLength="42" lengthAdjust="spacingAndGlyphs"><tspan font-style="italic" font-size="15.4">φ</tspan> (deg)</text>
<text transform="translate(36.2 181.6) scale(1 1.07)" font-size="13.4" text-anchor="end">180</text>
<text transform="translate(36.2 214.78) scale(1 1.07)" font-size="13.4" text-anchor="end">135</text>
<text transform="translate(36.2 247.95) scale(1 1.07)" font-size="13.4" text-anchor="end">90</text>
<text transform="translate(36.2 281.12) scale(1 1.07)" font-size="13.4" text-anchor="end">45</text>
<text transform="translate(36.2 314.3) scale(1 1.07)" font-size="13.4" text-anchor="end">0</text>
<text transform="translate(11.6 243.25) rotate(-90) scale(1 1.07)" font-size="13.4" text-anchor="middle" textLength="39" lengthAdjust="spacingAndGlyphs"><tspan font-style="italic" font-size="15.6">θ</tspan> (deg)</text>
<text transform="translate(43 194.4) scale(1 1.07)" font-size="14.4" textLength="20.2" lengthAdjust="spacingAndGlyphs"><tspan font-size="15.2">(</tspan><tspan font-weight="bold">d</tspan><tspan font-size="15.2">)</tspan></text>
<text transform="translate(108.1 196.8) scale(1 1.07)" font-size="13.8" text-anchor="middle">L</text>
<text transform="translate(414.3 181.7) scale(1 1.07)" font-size="13.4" textLength="23.3" lengthAdjust="spacingAndGlyphs">6.69</text>
<text transform="translate(414.3 248.05) scale(1 1.07)" font-size="13.4" textLength="23.3" lengthAdjust="spacingAndGlyphs">3.35</text>
<text transform="translate(414.3 314.4) scale(1 1.07)" font-size="13.4" textLength="23.3" lengthAdjust="spacingAndGlyphs">0.00</text>
<text transform="translate(451.8 285.05) rotate(-90) scale(1 1.07)" font-size="13.4" textLength="12.6" lengthAdjust="spacingAndGlyphs"><tspan font-style="italic">f</tspan><tspan font-size="9.4" dy="2.6">R</tspan></text>
<text transform="translate(451.8 266.75) rotate(-90) scale(1 1.07)" font-size="13.4" textLength="66.2" lengthAdjust="spacingAndGlyphs">(MHz/mV)</text>
<text transform="translate(262.4 322.6) scale(1 1.07)" font-size="13.4" text-anchor="middle"><tspan font-size="17.6" dy="2.5">−</tspan><tspan dx=".5" dy="-2.5">90</tspan></text>
<text transform="translate(297.9 322.6) scale(1 1.07)" font-size="13.4" text-anchor="middle"><tspan font-size="17.6" dy="2.5">−</tspan><tspan dx=".5" dy="-2.5">45</tspan></text>
<text transform="translate(333 322.6) scale(1 1.07)" font-size="13.4" text-anchor="middle">0</text>
<text transform="translate(368.5 322.6) scale(1 1.07)" font-size="13.4" text-anchor="middle">45</text>
<text transform="translate(404 322.6) scale(1 1.07)" font-size="13.4" text-anchor="middle">90</text>
<text transform="translate(333.2 338) scale(1 1.07)" font-size="13.4" text-anchor="middle" textLength="42" lengthAdjust="spacingAndGlyphs"><tspan font-style="italic" font-size="15.4">φ</tspan> (deg)</text>
<text transform="translate(266.2 194.4) scale(1 1.07)" font-size="14.4" textLength="18.8" lengthAdjust="spacingAndGlyphs"><tspan font-size="15.2">(</tspan><tspan font-weight="bold">e</tspan><tspan font-size="15.2">)</tspan></text>
<text transform="translate(331.3 196.8) scale(1 1.07)" font-size="13.8" text-anchor="middle">L</text>
<text transform="translate(637.7 181.7) scale(1 1.07)" font-size="13.4" textLength="30.2" lengthAdjust="spacingAndGlyphs">41.04</text>
<text transform="translate(637.7 248.05) scale(1 1.07)" font-size="13.4" textLength="30.2" lengthAdjust="spacingAndGlyphs">20.53</text>
<text transform="translate(637.7 314.4) scale(1 1.07)" font-size="13.4" textLength="23.3" lengthAdjust="spacingAndGlyphs">0.00</text>
<text transform="translate(681.9 250.45) rotate(-90) scale(1 1.07)" font-size="13.4"><tspan font-style="italic" font-size="13.8">Q</tspan><tspan font-size="11.5" dy="-1.4">*</tspan><tspan font-size="9.4" dx="-5.2" dy="4.6">2</tspan></text>
<text transform="translate(485.3 322.6) scale(1 1.07)" font-size="13.4" text-anchor="middle"><tspan font-size="17.6" dy="2.5">−</tspan><tspan dx=".5" dy="-2.5">90</tspan></text>
<text transform="translate(520.92 322.6) scale(1 1.07)" font-size="13.4" text-anchor="middle"><tspan font-size="17.6" dy="2.5">−</tspan><tspan dx=".5" dy="-2.5">45</tspan></text>
<text transform="translate(556.15 322.6) scale(1 1.07)" font-size="13.4" text-anchor="middle">0</text>
<text transform="translate(591.77 322.6) scale(1 1.07)" font-size="13.4" text-anchor="middle">45</text>
<text transform="translate(627.4 322.6) scale(1 1.07)" font-size="13.4" text-anchor="middle">90</text>
<text transform="translate(556.1 338) scale(1 1.07)" font-size="13.4" text-anchor="middle" textLength="42" lengthAdjust="spacingAndGlyphs"><tspan font-style="italic" font-size="15.4">φ</tspan> (deg)</text>
<text transform="translate(489.1 194.4) scale(1 1.07)" font-size="14.4" textLength="18.8" lengthAdjust="spacingAndGlyphs" fill="#fff"><tspan font-size="15.2">(</tspan><tspan font-weight="bold">f</tspan><tspan font-size="15.2">)</tspan></text>
<text transform="translate(554.2 196.8) scale(1 1.07)" font-size="13.8" text-anchor="middle" fill="#fff">L</text>
</g>
</svg>
</body>
</html>
